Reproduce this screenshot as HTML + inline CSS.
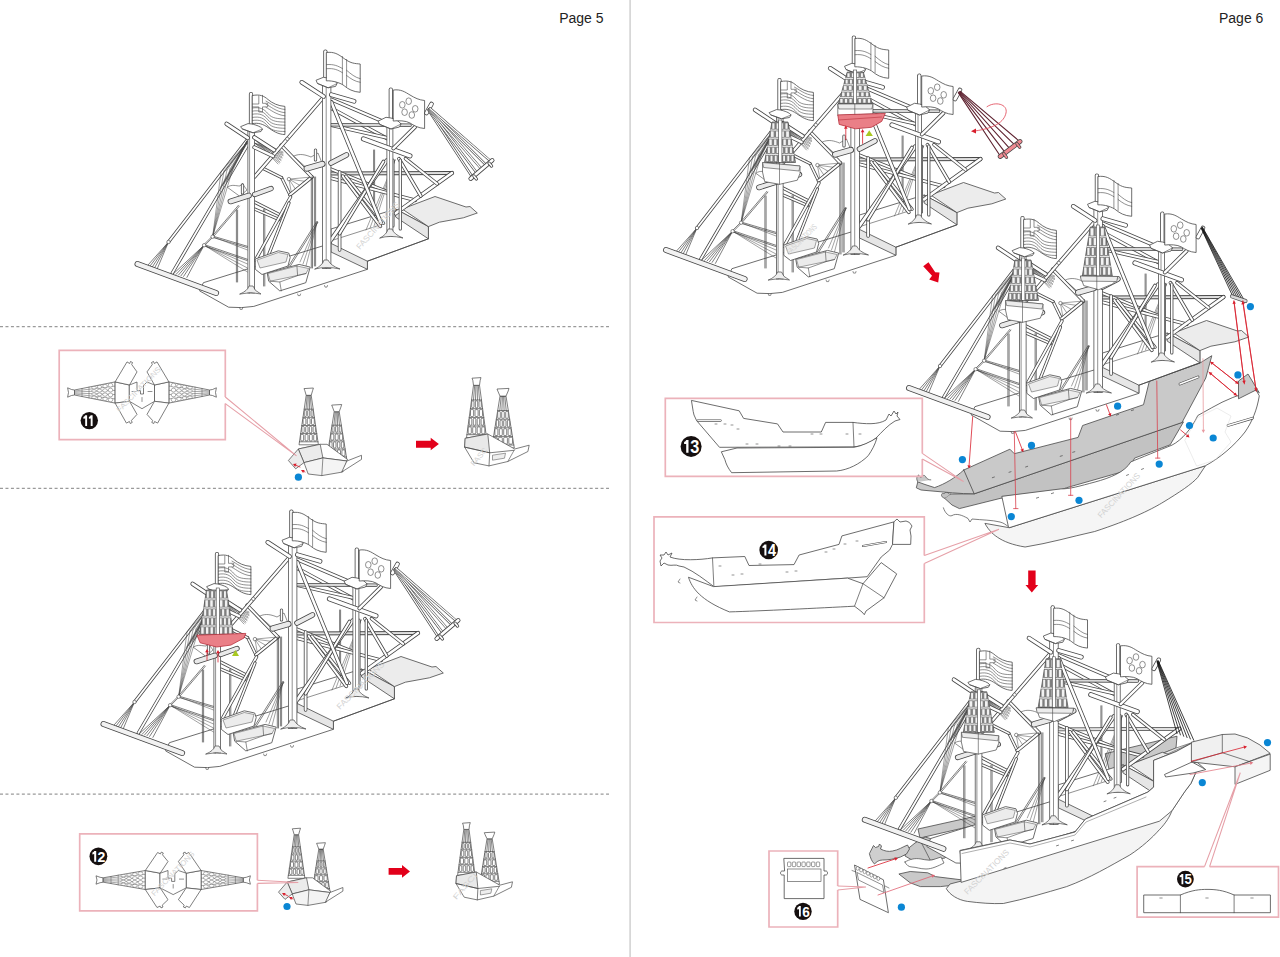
<!DOCTYPE html>
<html><head><meta charset="utf-8"><title>Assembly Pages 5-6</title>
<style>
html,body{margin:0;padding:0;background:#fff;width:1280px;height:957px;overflow:hidden}
svg{display:block}
text{font-family:"Liberation Sans",sans-serif}
.ln{fill:none;stroke:#444;stroke-width:.8;stroke-linejoin:round;stroke-linecap:round}
.lt{fill:none;stroke:#555;stroke-width:.6;stroke-linecap:round}
.wf{fill:#fff;stroke:#444;stroke-width:.8;stroke-linejoin:round}
.gf{fill:#ececec;stroke:#444;stroke-width:.8;stroke-linejoin:round}
.df{fill:#bdbdbd;stroke:#444;stroke-width:.8;stroke-linejoin:round}
.rb{fill:none;stroke:#ecb2ba;stroke-width:1.7}
.rl{fill:none;stroke:#e6a0a8;stroke-width:1.1}
.ra{fill:#e2001a}
.bd{fill:#0a86d4}
.num{fill:#111}
</style></head>
<body>
<svg width="1280" height="957" viewBox="0 0 1280 957">
<defs>
  <!-- BASKET (mast top lattice) -->
  <g id="rig"><polygon points="203.4,282.7 234.5,273 331,243.4 331,229 395.6,209 428.4,226.6 428.4,238.8 367.4,261.2 367.4,269.3 253.8,306.4 241.5,307.6 228.6,307.2 199.6,290.9" fill="#fff" stroke="#474747" stroke-width="0.8" stroke-linejoin="round"/><polygon points="331,243.4 367.4,261.2 367.4,269.3 331,252" fill="#e6e6e6" stroke="#474747" stroke-width="0.8" stroke-linejoin="round"/><polygon points="395.6,209 428.4,226.6 428.4,238.8 395.6,217" fill="#e6e6e6" stroke="#474747" stroke-width="0.8" stroke-linejoin="round"/><polygon points="402.2,209 435,196.5 466,207 470,206.5 477.3,213 463.4,217.8 439.4,222.2 428.4,226.6" fill="#ececec" stroke="#474747" stroke-width="0.8" stroke-linejoin="round"/><polyline points="367.4,261.2 428.4,238.8" fill="none" stroke="#474747" stroke-width="0.8" stroke-linecap="round" stroke-linejoin="round"/><path d="M239.7 307.8 l0.5 1.6 h2 l0.5 -1.6" fill="none" stroke="#474747" stroke-width="0.6" stroke-linejoin="round" stroke-linecap="round" /><path d="M297.6 294.0 l0.5 1.6 h2 l0.5 -1.6" fill="none" stroke="#474747" stroke-width="0.6" stroke-linejoin="round" stroke-linecap="round" /><path d="M324.5 285.5 l0.5 1.6 h2 l0.5 -1.6" fill="none" stroke="#474747" stroke-width="0.6" stroke-linejoin="round" stroke-linecap="round" /><line x1="168.5" y1="242" x2="247.2" y2="140" stroke="#474747" stroke-width="3.4" stroke-linecap="round"/><line x1="168.5" y1="242" x2="247.2" y2="140" stroke="#fff" stroke-width="1.8" stroke-linecap="round"/><line x1="172.3" y1="273" x2="247.5" y2="145" stroke="#474747" stroke-width="3.4" stroke-linecap="round"/><line x1="172.3" y1="273" x2="247.5" y2="145" stroke="#fff" stroke-width="1.8" stroke-linecap="round"/><polyline points="168.5,242 146.7,266.5" fill="none" stroke="#474747" stroke-width="0.7" stroke-linecap="round" stroke-linejoin="round"/><polyline points="168.5,242 149,267.3" fill="none" stroke="#474747" stroke-width="0.7" stroke-linecap="round" stroke-linejoin="round"/><polyline points="168.5,242 151.5,268.2" fill="none" stroke="#474747" stroke-width="0.7" stroke-linecap="round" stroke-linejoin="round"/><polyline points="168.5,242 154,269" fill="none" stroke="#474747" stroke-width="0.7" stroke-linecap="round" stroke-linejoin="round"/><polyline points="168.5,242 156.8,269.8" fill="none" stroke="#474747" stroke-width="0.7" stroke-linecap="round" stroke-linejoin="round"/><polyline points="204.1,245.2 173.5,273.7" fill="none" stroke="#474747" stroke-width="0.7" stroke-linecap="round" stroke-linejoin="round"/><polyline points="204.1,245.2 176,274.4" fill="none" stroke="#474747" stroke-width="0.7" stroke-linecap="round" stroke-linejoin="round"/><polyline points="204.1,245.2 178.5,275" fill="none" stroke="#474747" stroke-width="0.7" stroke-linecap="round" stroke-linejoin="round"/><polyline points="204.1,245.2 181,275.7" fill="none" stroke="#474747" stroke-width="0.7" stroke-linecap="round" stroke-linejoin="round"/><polyline points="204.1,245.2 183.6,276.4" fill="none" stroke="#474747" stroke-width="0.7" stroke-linecap="round" stroke-linejoin="round"/><polyline points="204.1,245.2 186.9,277.4" fill="none" stroke="#474747" stroke-width="0.7" stroke-linecap="round" stroke-linejoin="round"/><polyline points="212.6,236.7 221,172" fill="none" stroke="#474747" stroke-width="0.5" stroke-linecap="round" stroke-linejoin="round"/><polyline points="212.6,236.7 224,171" fill="none" stroke="#474747" stroke-width="0.5" stroke-linecap="round" stroke-linejoin="round"/><polyline points="212.6,236.7 227,170" fill="none" stroke="#474747" stroke-width="0.5" stroke-linecap="round" stroke-linejoin="round"/><polyline points="212.6,236.7 230,169" fill="none" stroke="#474747" stroke-width="0.5" stroke-linecap="round" stroke-linejoin="round"/><polyline points="212.6,236.7 233,168" fill="none" stroke="#474747" stroke-width="0.5" stroke-linecap="round" stroke-linejoin="round"/><polyline points="247.2,142 221,172" fill="none" stroke="#474747" stroke-width="0.5" stroke-linecap="round" stroke-linejoin="round"/><polyline points="247.2,142 224,171" fill="none" stroke="#474747" stroke-width="0.5" stroke-linecap="round" stroke-linejoin="round"/><polyline points="247.2,142 227,170" fill="none" stroke="#474747" stroke-width="0.5" stroke-linecap="round" stroke-linejoin="round"/><polyline points="247.2,142 230,169" fill="none" stroke="#474747" stroke-width="0.5" stroke-linecap="round" stroke-linejoin="round"/><polyline points="247.2,142 233,168" fill="none" stroke="#474747" stroke-width="0.5" stroke-linecap="round" stroke-linejoin="round"/><polyline points="212.2,236.3 203.7,244.8" fill="none" stroke="#474747" stroke-width="0.7" stroke-linecap="round" stroke-linejoin="round"/><polyline points="213,237.1 204.5,245.6" fill="none" stroke="#474747" stroke-width="0.7" stroke-linecap="round" stroke-linejoin="round"/><polyline points="213.1,237.1 239.4,206.1" fill="none" stroke="#474747" stroke-width="0.7" stroke-linecap="round" stroke-linejoin="round"/><polyline points="212.1,236.3 238.4,205.3" fill="none" stroke="#474747" stroke-width="0.7" stroke-linecap="round" stroke-linejoin="round"/><polyline points="212.4,237.3 247.3,247.6" fill="none" stroke="#474747" stroke-width="0.7" stroke-linecap="round" stroke-linejoin="round"/><polyline points="212.8,236.1 247.7,246.4" fill="none" stroke="#474747" stroke-width="0.7" stroke-linecap="round" stroke-linejoin="round"/><polyline points="212.6,236.7 247.5,250" fill="none" stroke="#474747" stroke-width="0.5" stroke-linecap="round" stroke-linejoin="round"/><polyline points="203.9,245.8 247.3,260.6" fill="none" stroke="#474747" stroke-width="0.7" stroke-linecap="round" stroke-linejoin="round"/><polyline points="204.3,244.6 247.7,259.4" fill="none" stroke="#474747" stroke-width="0.7" stroke-linecap="round" stroke-linejoin="round"/><polyline points="204.1,245.2 247.5,264" fill="none" stroke="#474747" stroke-width="0.5" stroke-linecap="round" stroke-linejoin="round"/><polyline points="204.1,245.2 247.5,268" fill="none" stroke="#474747" stroke-width="0.5" stroke-linecap="round" stroke-linejoin="round"/><polyline points="204.1,245.2 247.5,272" fill="none" stroke="#474747" stroke-width="0.5" stroke-linecap="round" stroke-linejoin="round"/><polyline points="236.4,210 236.4,282" fill="none" stroke="#474747" stroke-width="0.7" stroke-linecap="round" stroke-linejoin="round"/><polyline points="237.6,210 237.6,282" fill="none" stroke="#474747" stroke-width="0.7" stroke-linecap="round" stroke-linejoin="round"/><polyline points="263.6,209.5 263.6,286" fill="none" stroke="#474747" stroke-width="0.7" stroke-linecap="round" stroke-linejoin="round"/><polyline points="264.8,209.5 264.8,286" fill="none" stroke="#474747" stroke-width="0.7" stroke-linecap="round" stroke-linejoin="round"/><line x1="281.6" y1="177.6" x2="290" y2="194.8" stroke="#474747" stroke-width="3.1" stroke-linecap="round"/><line x1="281.6" y1="177.6" x2="290" y2="194.8" stroke="#fff" stroke-width="1.5" stroke-linecap="round"/><polyline points="288.9,179.1 311.9,177" fill="none" stroke="#474747" stroke-width="0.5" stroke-linecap="round" stroke-linejoin="round"/><polyline points="288.9,179.1 306.5,181.5" fill="none" stroke="#474747" stroke-width="0.5" stroke-linecap="round" stroke-linejoin="round"/><polyline points="288.9,179.1 301,186" fill="none" stroke="#474747" stroke-width="0.5" stroke-linecap="round" stroke-linejoin="round"/><polyline points="288.9,179.1 296,190" fill="none" stroke="#474747" stroke-width="0.5" stroke-linecap="round" stroke-linejoin="round"/><polyline points="288.9,179.1 291.5,193.5" fill="none" stroke="#474747" stroke-width="0.5" stroke-linecap="round" stroke-linejoin="round"/><line x1="311.9" y1="177" x2="290" y2="194.8" stroke="#474747" stroke-width="3.6" stroke-linecap="round"/><line x1="311.9" y1="177" x2="290" y2="194.8" stroke="#fff" stroke-width="2" stroke-linecap="round"/><line x1="262.8" y1="168.2" x2="281.6" y2="177.6" stroke="#474747" stroke-width="3.2" stroke-linecap="round"/><line x1="262.8" y1="168.2" x2="281.6" y2="177.6" stroke="#fff" stroke-width="1.6" stroke-linecap="round"/><line x1="281.1" y1="145.2" x2="311.9" y2="177" stroke="#474747" stroke-width="3.6" stroke-linecap="round"/><line x1="281.1" y1="145.2" x2="311.9" y2="177" stroke="#fff" stroke-width="2" stroke-linecap="round"/><line x1="254.4" y1="202" x2="281.6" y2="215.7" stroke="#474747" stroke-width="3.4" stroke-linecap="round"/><line x1="254.4" y1="202" x2="281.6" y2="215.7" stroke="#fff" stroke-width="1.8" stroke-linecap="round"/><line x1="254.4" y1="209" x2="279" y2="219.5" stroke="#474747" stroke-width="3.2" stroke-linecap="round"/><line x1="254.4" y1="209" x2="279" y2="219.5" stroke="#fff" stroke-width="1.6" stroke-linecap="round"/><line x1="290.5" y1="197" x2="255.4" y2="260.3" stroke="#474747" stroke-width="3.4" stroke-linecap="round"/><line x1="290.5" y1="197" x2="255.4" y2="260.3" stroke="#fff" stroke-width="1.8" stroke-linecap="round"/><line x1="289" y1="203" x2="263.8" y2="267" stroke="#474747" stroke-width="3.2" stroke-linecap="round"/><line x1="289" y1="203" x2="263.8" y2="267" stroke="#fff" stroke-width="1.6" stroke-linecap="round"/><polyline points="311.3,177 311.3,268" fill="none" stroke="#474747" stroke-width="0.7" stroke-linecap="round" stroke-linejoin="round"/><polyline points="312.5,177 312.5,268" fill="none" stroke="#474747" stroke-width="0.7" stroke-linecap="round" stroke-linejoin="round"/><polyline points="314.4,177 314.4,266" fill="none" stroke="#474747" stroke-width="0.7" stroke-linecap="round" stroke-linejoin="round"/><polyline points="315.6,177 315.6,266" fill="none" stroke="#474747" stroke-width="0.7" stroke-linecap="round" stroke-linejoin="round"/><polyline points="317.3,221.9 300,262" fill="none" stroke="#474747" stroke-width="0.5" stroke-linecap="round" stroke-linejoin="round"/><polyline points="317.3,221.9 303,264" fill="none" stroke="#474747" stroke-width="0.5" stroke-linecap="round" stroke-linejoin="round"/><polyline points="317.3,221.9 306,266" fill="none" stroke="#474747" stroke-width="0.5" stroke-linecap="round" stroke-linejoin="round"/><polyline points="316.7,221.5 288.3,266.6" fill="none" stroke="#474747" stroke-width="0.7" stroke-linecap="round" stroke-linejoin="round"/><polyline points="317.9,222.3 289.5,267.4" fill="none" stroke="#474747" stroke-width="0.7" stroke-linecap="round" stroke-linejoin="round"/><polyline points="254.5,139 283,152" fill="none" stroke="#474747" stroke-width="0.5" stroke-linecap="round" stroke-linejoin="round"/><polyline points="254.5,139 283,154.5" fill="none" stroke="#474747" stroke-width="0.5" stroke-linecap="round" stroke-linejoin="round"/><polyline points="254.5,139 282,157" fill="none" stroke="#474747" stroke-width="0.5" stroke-linecap="round" stroke-linejoin="round"/><polyline points="254.5,139 281,159.5" fill="none" stroke="#474747" stroke-width="0.5" stroke-linecap="round" stroke-linejoin="round"/><polyline points="254.5,139 280,162" fill="none" stroke="#474747" stroke-width="0.5" stroke-linecap="round" stroke-linejoin="round"/><polyline points="254.5,139 278,164" fill="none" stroke="#474747" stroke-width="0.5" stroke-linecap="round" stroke-linejoin="round"/><polyline points="254.5,143 283,153" fill="none" stroke="#474747" stroke-width="0.5" stroke-linecap="round" stroke-linejoin="round"/><polyline points="254.5,143 283,155.5" fill="none" stroke="#474747" stroke-width="0.5" stroke-linecap="round" stroke-linejoin="round"/><polyline points="254.5,143 282,158" fill="none" stroke="#474747" stroke-width="0.5" stroke-linecap="round" stroke-linejoin="round"/><polyline points="254.5,143 281,160.5" fill="none" stroke="#474747" stroke-width="0.5" stroke-linecap="round" stroke-linejoin="round"/><polyline points="254.5,143 279.5,163" fill="none" stroke="#474747" stroke-width="0.5" stroke-linecap="round" stroke-linejoin="round"/><polyline points="247,141 228,180" fill="none" stroke="#474747" stroke-width="0.5" stroke-linecap="round" stroke-linejoin="round"/><polyline points="247,141 226,182" fill="none" stroke="#474747" stroke-width="0.5" stroke-linecap="round" stroke-linejoin="round"/><polyline points="247,141 224,184" fill="none" stroke="#474747" stroke-width="0.5" stroke-linecap="round" stroke-linejoin="round"/><polyline points="247,141 222,186" fill="none" stroke="#474747" stroke-width="0.5" stroke-linecap="round" stroke-linejoin="round"/><polyline points="247,141 220,188" fill="none" stroke="#474747" stroke-width="0.5" stroke-linecap="round" stroke-linejoin="round"/><polyline points="373.6,150 373.6,205" fill="none" stroke="#474747" stroke-width="0.7" stroke-linecap="round" stroke-linejoin="round"/><polyline points="374.6,150 374.6,205" fill="none" stroke="#474747" stroke-width="0.7" stroke-linecap="round" stroke-linejoin="round"/><polyline points="395,160 366,230" fill="none" stroke="#474747" stroke-width="0.5" stroke-linecap="round" stroke-linejoin="round"/><polyline points="395,160 370,228" fill="none" stroke="#474747" stroke-width="0.5" stroke-linecap="round" stroke-linejoin="round"/><polyline points="395,160 374,226" fill="none" stroke="#474747" stroke-width="0.5" stroke-linecap="round" stroke-linejoin="round"/><polyline points="330.2,241 379.4,225.3" fill="none" stroke="#474747" stroke-width="0.6" stroke-linecap="round" stroke-linejoin="round"/><line x1="331.4" y1="99.4" x2="387.8" y2="123.4" stroke="#474747" stroke-width="3.8" stroke-linecap="round"/><line x1="331.4" y1="99.4" x2="387.8" y2="123.4" stroke="#fff" stroke-width="2.2" stroke-linecap="round"/><line x1="331.4" y1="108.3" x2="387.8" y2="138.9" stroke="#474747" stroke-width="3.8" stroke-linecap="round"/><line x1="331.4" y1="108.3" x2="387.8" y2="138.9" stroke="#fff" stroke-width="2.2" stroke-linecap="round"/><line x1="331.4" y1="125.3" x2="387.8" y2="138" stroke="#474747" stroke-width="3.6" stroke-linecap="round"/><line x1="331.4" y1="125.3" x2="387.8" y2="138" stroke="#fff" stroke-width="2" stroke-linecap="round"/><line x1="331.4" y1="124.8" x2="410" y2="125.2" stroke="#474747" stroke-width="3.6" stroke-linecap="round"/><line x1="331.4" y1="124.8" x2="410" y2="125.2" stroke="#d8d8d8" stroke-width="2" stroke-linecap="round"/><line x1="331.4" y1="173.5" x2="452" y2="173" stroke="#474747" stroke-width="3.8" stroke-linecap="round"/><line x1="331.4" y1="173.5" x2="452" y2="173" stroke="#e0e0e0" stroke-width="2.2" stroke-linecap="round"/><line x1="330.2" y1="168.8" x2="387.7" y2="191.8" stroke="#474747" stroke-width="3.4" stroke-linecap="round"/><line x1="330.2" y1="168.8" x2="387.7" y2="191.8" stroke="#fff" stroke-width="1.8" stroke-linecap="round"/><line x1="330" y1="178" x2="415.3" y2="200.3" stroke="#474747" stroke-width="3.6" stroke-linecap="round"/><line x1="330" y1="178" x2="415.3" y2="200.3" stroke="#fff" stroke-width="2" stroke-linecap="round"/><line x1="339.6" y1="172" x2="339.6" y2="250" stroke="#474747" stroke-width="3.6" stroke-linecap="round"/><line x1="339.6" y1="172" x2="339.6" y2="250" stroke="#fff" stroke-width="2" stroke-linecap="round"/><line x1="342.8" y1="176.1" x2="380.4" y2="226.3" stroke="#474747" stroke-width="3.6" stroke-linecap="round"/><line x1="342.8" y1="176.1" x2="380.4" y2="226.3" stroke="#fff" stroke-width="2" stroke-linecap="round"/><line x1="345.9" y1="176.1" x2="383.5" y2="223.2" stroke="#474747" stroke-width="3.4" stroke-linecap="round"/><line x1="345.9" y1="176.1" x2="383.5" y2="223.2" stroke="#fff" stroke-width="1.8" stroke-linecap="round"/><line x1="386.7" y1="160.5" x2="330.2" y2="241" stroke="#474747" stroke-width="4.4" stroke-linecap="round"/><line x1="386.7" y1="160.5" x2="330.2" y2="241" stroke="#fff" stroke-width="2.8" stroke-linecap="round"/><line x1="383.5" y1="161.5" x2="339.6" y2="233.6" stroke="#474747" stroke-width="3.6" stroke-linecap="round"/><line x1="383.5" y1="161.5" x2="339.6" y2="233.6" stroke="#fff" stroke-width="2" stroke-linecap="round"/><line x1="331.4" y1="102.2" x2="381" y2="223" stroke="#474747" stroke-width="4.1" stroke-linecap="round"/><line x1="331.4" y1="102.2" x2="381" y2="223" stroke="#fff" stroke-width="2.5" stroke-linecap="round"/><line x1="452" y1="173" x2="395.6" y2="213.4" stroke="#474747" stroke-width="4.2" stroke-linecap="round"/><line x1="452" y1="173" x2="395.6" y2="213.4" stroke="#fff" stroke-width="2.6" stroke-linecap="round"/><line x1="398.9" y1="158.7" x2="420.8" y2="196" stroke="#474747" stroke-width="3.6" stroke-linecap="round"/><line x1="398.9" y1="158.7" x2="420.8" y2="196" stroke="#fff" stroke-width="2" stroke-linecap="round"/><line x1="405.5" y1="158.7" x2="437.2" y2="183.9" stroke="#474747" stroke-width="3.6" stroke-linecap="round"/><line x1="405.5" y1="158.7" x2="437.2" y2="183.9" stroke="#fff" stroke-width="2" stroke-linecap="round"/><line x1="393" y1="160" x2="393" y2="226" stroke="#474747" stroke-width="3" stroke-linecap="round"/><line x1="393" y1="160" x2="393" y2="226" stroke="#fff" stroke-width="1.4" stroke-linecap="round"/><line x1="400.3" y1="160" x2="400.3" y2="229" stroke="#474747" stroke-width="3.2" stroke-linecap="round"/><line x1="400.3" y1="160" x2="400.3" y2="229" stroke="#fff" stroke-width="1.6" stroke-linecap="round"/><line x1="323.6" y1="97" x2="254.4" y2="177" stroke="#474747" stroke-width="3.8" stroke-linecap="round"/><line x1="323.6" y1="97" x2="254.4" y2="177" stroke="#fff" stroke-width="2.2" stroke-linecap="round"/><rect x="247.9" y="128" width="6.7" height="165" fill="#fff" stroke="#474747" stroke-width="0.75"/><polyline points="249.6,128 249.6,293" fill="none" stroke="#474747" stroke-width="0.6" stroke-linecap="round" stroke-linejoin="round"/><path d="M240 294 Q247.7 290.8 249 286 L253 286 Q254 290.8 261 294 Q251 291.2 240 294 Z" fill="#eee" stroke="#474747" stroke-width="0.7" stroke-linejoin="round" stroke-linecap="round" /><rect x="322.4" y="84" width="8.5" height="184.6" fill="#fff" stroke="#474747" stroke-width="0.75"/><polyline points="326.2,84 326.2,268.6" fill="none" stroke="#474747" stroke-width="0.6" stroke-linecap="round" stroke-linejoin="round"/><path d="M315 269 Q322.7 265.4 324 260 L328 260 Q330.2 265.4 340 269 Q326 265.9 315 269 Z" fill="#eee" stroke="#474747" stroke-width="0.7" stroke-linejoin="round" stroke-linecap="round" /><rect x="386.9" y="122" width="6" height="114.4" fill="#fff" stroke="#474747" stroke-width="0.75"/><polyline points="389.5,122 389.5,236.4" fill="none" stroke="#474747" stroke-width="0.6" stroke-linecap="round" stroke-linejoin="round"/><path d="M380 238 Q387 234.4 388 229 L392 229 Q393.9 234.4 403 238 Q390 234.8 380 238 Z" fill="#eee" stroke="#474747" stroke-width="0.7" stroke-linejoin="round" stroke-linecap="round" /><line x1="251" y1="94" x2="251" y2="126" stroke="#474747" stroke-width="4.2" stroke-linecap="round"/><line x1="251" y1="94" x2="251" y2="126" stroke="#fff" stroke-width="2.6" stroke-linecap="round"/><line x1="325.4" y1="51.5" x2="325.4" y2="84" stroke="#474747" stroke-width="4.2" stroke-linecap="round"/><line x1="325.4" y1="51.5" x2="325.4" y2="84" stroke="#fff" stroke-width="2.6" stroke-linecap="round"/><line x1="390.8" y1="89.5" x2="390.8" y2="122" stroke="#474747" stroke-width="4.2" stroke-linecap="round"/><line x1="390.8" y1="89.5" x2="390.8" y2="122" stroke="#fff" stroke-width="2.6" stroke-linecap="round"/><line x1="226.6" y1="123.8" x2="247.7" y2="137.9" stroke="#474747" stroke-width="4.4" stroke-linecap="round"/><line x1="226.6" y1="123.8" x2="247.7" y2="137.9" stroke="#fff" stroke-width="2.8" stroke-linecap="round"/><line x1="254.3" y1="137.4" x2="274" y2="150.1" stroke="#474747" stroke-width="4.4" stroke-linecap="round"/><line x1="254.3" y1="137.4" x2="274" y2="150.1" stroke="#fff" stroke-width="2.8" stroke-linecap="round"/><line x1="254.3" y1="147.3" x2="273.1" y2="156.2" stroke="#474747" stroke-width="4" stroke-linecap="round"/><line x1="254.3" y1="147.3" x2="273.1" y2="156.2" stroke="#fff" stroke-width="2.4" stroke-linecap="round"/><path d="M227.6 187 C232 184 236 186 240 186 L242.6 183 L244 186 L247 190 L240 196 Z" fill="#fff" stroke="#474747" stroke-width="0.6" stroke-linejoin="round" stroke-linecap="round" /><line x1="230.4" y1="201.5" x2="249" y2="195.5" stroke="#474747" stroke-width="5.6" stroke-linecap="round"/><line x1="230.4" y1="201.5" x2="249" y2="195.5" stroke="#eaeaea" stroke-width="4" stroke-linecap="round"/><line x1="254.6" y1="194.5" x2="271.1" y2="188.5" stroke="#474747" stroke-width="5.2" stroke-linecap="round"/><line x1="254.6" y1="194.5" x2="271.1" y2="188.5" stroke="#eaeaea" stroke-width="3.6" stroke-linecap="round"/><line x1="301.7" y1="82.3" x2="323.6" y2="96.4" stroke="#474747" stroke-width="4.6" stroke-linecap="round"/><line x1="301.7" y1="82.3" x2="323.6" y2="96.4" stroke="#fff" stroke-width="3" stroke-linecap="round"/><line x1="331.4" y1="94.7" x2="354" y2="101.3" stroke="#474747" stroke-width="4.8" stroke-linecap="round"/><line x1="331.4" y1="94.7" x2="354" y2="101.3" stroke="#fff" stroke-width="3.2" stroke-linecap="round"/><path d="M294 156 C300 153 306 155 311 157 L318 153 L320 158 L322 163 L306 167 Z" fill="#fff" stroke="#474747" stroke-width="0.6" stroke-linejoin="round" stroke-linecap="round" /><line x1="306.7" y1="168.5" x2="322.4" y2="164" stroke="#474747" stroke-width="6.2" stroke-linecap="round"/><line x1="306.7" y1="168.5" x2="322.4" y2="164" stroke="#eaeaea" stroke-width="4.6" stroke-linecap="round"/><line x1="331" y1="163" x2="346.4" y2="154.9" stroke="#474747" stroke-width="5.6" stroke-linecap="round"/><line x1="331" y1="163" x2="346.4" y2="154.9" stroke="#eaeaea" stroke-width="4" stroke-linecap="round"/><line x1="363.4" y1="138.9" x2="410" y2="155.8" stroke="#474747" stroke-width="5" stroke-linecap="round"/><line x1="363.4" y1="138.9" x2="410" y2="155.8" stroke="#fff" stroke-width="3.4" stroke-linecap="round"/><line x1="393.4" y1="148.3" x2="415" y2="127" stroke="#474747" stroke-width="4" stroke-linecap="round"/><line x1="393.4" y1="148.3" x2="415" y2="127" stroke="#fff" stroke-width="2.4" stroke-linecap="round"/><line x1="242.5" y1="185" x2="242.5" y2="193" stroke="#474747" stroke-width="3.2" stroke-linecap="round"/><line x1="242.5" y1="185" x2="242.5" y2="193" stroke="#fff" stroke-width="1.6" stroke-linecap="round"/><line x1="315.5" y1="150" x2="315.5" y2="160" stroke="#474747" stroke-width="3.2" stroke-linecap="round"/><line x1="315.5" y1="150" x2="315.5" y2="160" stroke="#fff" stroke-width="1.6" stroke-linecap="round"/><path d="M241 126.5 L248 123.6 L252 124 C256 125 261 126.5 262.5 129 L261 131.5 L253 132.8 L242.5 129 Z" fill="#fff" stroke="#474747" stroke-width="0.8" stroke-linejoin="round" stroke-linecap="round" /><polyline points="242.5,129 253,132.8 262.5,129" fill="none" stroke="#474747" stroke-width="0.6" stroke-linecap="round" stroke-linejoin="round"/><path d="M316.4 80.1 L323.4 77.3 L328 78 C332 79 336 81 337 83.6 L335.6 86.4 L328.1 87.8 L317.8 83.6 Z" fill="#fff" stroke="#474747" stroke-width="0.8" stroke-linejoin="round" stroke-linecap="round" /><polyline points="317.8,83.6 328.1,87.8 337,83.6" fill="none" stroke="#474747" stroke-width="0.6" stroke-linecap="round" stroke-linejoin="round"/><path d="M378.4 121 L386 117.3 L391 118 C395 119 399 121 401 124 L399.5 127 L391 129 L380 124.5 Z" fill="#fff" stroke="#474747" stroke-width="0.8" stroke-linejoin="round" stroke-linecap="round" /><polyline points="380,124.5 391,129 401,124" fill="none" stroke="#474747" stroke-width="0.6" stroke-linecap="round" stroke-linejoin="round"/><path d="M252.5 95.5 C260 94 264 96 268 99.5 S278 106 284.9 106.4 L284.9 134.6 C278 134.3 273 131 268 127.5 S258 122.5 252.5 123.6 Z" fill="#fff" stroke="#474747" stroke-width="0.8" stroke-linejoin="round" stroke-linecap="round" /><path d="M266 101.1 C270 102.9 276 108.7 284.9 109.5" fill="none" stroke="#474747" stroke-width="0.6" stroke-linejoin="round" stroke-linecap="round" /><path d="M266 104.2 C270 106 276 111.9 284.9 112.7" fill="none" stroke="#474747" stroke-width="0.6" stroke-linejoin="round" stroke-linecap="round" /><path d="M266 107.4 C270 109.2 276 115 284.9 115.8" fill="none" stroke="#474747" stroke-width="0.6" stroke-linejoin="round" stroke-linecap="round" /><path d="M252.5 108 C260 106.8 264 108.8 268 113.7 S278 118.7 284.9 118.9" fill="none" stroke="#474747" stroke-width="0.6" stroke-linejoin="round" stroke-linecap="round" /><path d="M252.5 111.1 C260 109.9 264 111.9 268 116.8 S278 121.9 284.9 122.1" fill="none" stroke="#474747" stroke-width="0.6" stroke-linejoin="round" stroke-linecap="round" /><path d="M252.5 114.2 C260 113 264 115 268 119.9 S278 125 284.9 125.2" fill="none" stroke="#474747" stroke-width="0.6" stroke-linejoin="round" stroke-linecap="round" /><path d="M252.5 117.4 C260 116.2 264 118.2 268 123 S278 128.1 284.9 128.3" fill="none" stroke="#474747" stroke-width="0.6" stroke-linejoin="round" stroke-linecap="round" /><path d="M252.5 120.5 C260 119.3 264 121.3 268 126.2 S278 131.3 284.9 131.5" fill="none" stroke="#474747" stroke-width="0.6" stroke-linejoin="round" stroke-linecap="round" /><path d="M258.8 96 V104 H252.6 M262.5 95.3 V103.3 H267.7 V106.9 H262.5 V112 H258.8 V106.9 H252.6" fill="none" stroke="#474747" stroke-width="0.6" stroke-linejoin="round" stroke-linecap="round" /><path d="M326.7 52.5 C334 51.5 338 54 344.5 58.8 S355 63.5 360.2 64 L360.2 92.3 C353 91.8 348 89 344.5 86 S333 80.5 326.7 80.8 Z" fill="#fff" stroke="#474747" stroke-width="0.8" stroke-linejoin="round" stroke-linecap="round" /><path d="M326.7 64.6 C334 64 338 66 342.4 68.5 M326.7 68.7 C334 68 338 70 342.4 72.7 M346.6 70.3 C351 74 355 77.5 360.2 78.7 M346.6 75.5 C351 79 355 81.5 360.2 82.3" fill="none" stroke="#474747" stroke-width="0.6" stroke-linejoin="round" stroke-linecap="round" /><path d="M342.4 56.5 V84 M346.6 59.4 V86.5" fill="none" stroke="#474747" stroke-width="0.6" stroke-linejoin="round" stroke-linecap="round" /><path d="M393.6 90 C401 89 405 92 410 95 S419 100 424.6 100.5 L424.6 128.5 C418 128 414 125.5 410 123 S398 120.5 393.6 121 Z" fill="#fff" stroke="#474747" stroke-width="0.8" stroke-linejoin="round" stroke-linecap="round" /><ellipse cx="408.7" cy="101.2" rx="2.8" ry="3.3" fill="#fff" stroke="#474747" stroke-width="0.6"/><ellipse cx="402.3" cy="104.8" rx="2.8" ry="3.3" fill="#fff" stroke="#474747" stroke-width="0.6"/><ellipse cx="415.2" cy="108.8" rx="2.8" ry="3.3" fill="#fff" stroke="#474747" stroke-width="0.6"/><ellipse cx="404.6" cy="112.2" rx="2.8" ry="3.3" fill="#fff" stroke="#474747" stroke-width="0.6"/><ellipse cx="411.8" cy="115" rx="2.8" ry="3.3" fill="#fff" stroke="#474747" stroke-width="0.6"/><line x1="426.5" y1="113" x2="431.5" y2="104" stroke="#474747" stroke-width="4.6" stroke-linecap="round"/><line x1="426.5" y1="113" x2="431.5" y2="104" stroke="#fff" stroke-width="3" stroke-linecap="round"/><circle cx="287.3" cy="138.9" r="1.7" fill="#fff" stroke="#474747" stroke-width="0.6"/><circle cx="168.5" cy="242" r="1.7" fill="#fff" stroke="#474747" stroke-width="0.6"/><circle cx="204.1" cy="245.2" r="1.7" fill="#fff" stroke="#474747" stroke-width="0.6"/><circle cx="288.9" cy="179.1" r="1.7" fill="#fff" stroke="#474747" stroke-width="0.6"/><circle cx="212.6" cy="236.7" r="1.7" fill="#fff" stroke="#474747" stroke-width="0.6"/><polygon points="255.3,259 278.3,250.8 288.7,253 290.2,257.5 288,266 262,274.5 255.3,269.3" fill="#fff" stroke="#474747" stroke-width="0.8" stroke-linejoin="round"/><polygon points="257,260 278.3,252.5 288,254.5 286,262 260,268" fill="#ececec" stroke="#474747" stroke-width="0.5" stroke-linejoin="round"/><polygon points="267.2,273 299.1,264.4 310.2,267.1 305.8,282.7 279.8,290.9 268.7,281.2" fill="#fff" stroke="#474747" stroke-width="0.8" stroke-linejoin="round"/><polygon points="268,273.5 297,266 308.7,268.5 306,273.5 298.4,275.3 270.2,281.2" fill="#ececec" stroke="#474747" stroke-width="0.5" stroke-linejoin="round"/><polyline points="296.9,265.6 297.6,275.3" fill="none" stroke="#474747" stroke-width="0.6" stroke-linecap="round" stroke-linejoin="round"/><polyline points="279.8,282 281.3,290.9" fill="none" stroke="#474747" stroke-width="0.6" stroke-linecap="round" stroke-linejoin="round"/><polyline points="270.2,281.2 279.8,282 298.4,275.3 306,273.5" fill="none" stroke="#474747" stroke-width="0.6" stroke-linecap="round" stroke-linejoin="round"/><line x1="137.5" y1="264" x2="216.1" y2="293" stroke="#474747" stroke-width="6" stroke-linecap="round"/><line x1="137.5" y1="264" x2="216.1" y2="293" stroke="#f2f2f2" stroke-width="4.4" stroke-linecap="round"/></g><g id="rakeN"><line x1="428.5" y1="110" x2="471.7" y2="176" stroke="#474747" stroke-width="2.5" stroke-linecap="round"/><line x1="428.5" y1="110" x2="471.7" y2="176" stroke="#fff" stroke-width="1.3" stroke-linecap="round"/><line x1="428.9" y1="109.6" x2="476.3" y2="172.2" stroke="#474747" stroke-width="2.5" stroke-linecap="round"/><line x1="428.9" y1="109.6" x2="476.3" y2="172.2" stroke="#fff" stroke-width="1.3" stroke-linecap="round"/><line x1="429.3" y1="109.2" x2="480.9" y2="168.3" stroke="#474747" stroke-width="2.5" stroke-linecap="round"/><line x1="429.3" y1="109.2" x2="480.9" y2="168.3" stroke="#fff" stroke-width="1.3" stroke-linecap="round"/><line x1="429.7" y1="108.8" x2="485.4" y2="164.4" stroke="#474747" stroke-width="2.5" stroke-linecap="round"/><line x1="429.7" y1="108.8" x2="485.4" y2="164.4" stroke="#fff" stroke-width="1.3" stroke-linecap="round"/><line x1="430.1" y1="108.4" x2="490" y2="160.6" stroke="#474747" stroke-width="2.5" stroke-linecap="round"/><line x1="430.1" y1="108.4" x2="490" y2="160.6" stroke="#fff" stroke-width="1.3" stroke-linecap="round"/><line x1="470.6" y1="178.7" x2="492.3" y2="160.3" stroke="#474747" stroke-width="4.4" stroke-linecap="round"/><line x1="470.6" y1="178.7" x2="492.3" y2="160.3" stroke="#fff" stroke-width="2.8" stroke-linecap="round"/><line x1="473.9" y1="175.9" x2="476.4" y2="179" stroke="#474747" stroke-width="3.2" stroke-linecap="round"/><line x1="473.9" y1="175.9" x2="476.4" y2="179" stroke="#fff" stroke-width="1.6" stroke-linecap="round"/><line x1="489" y1="163.1" x2="491.6" y2="166.1" stroke="#474747" stroke-width="3.2" stroke-linecap="round"/><line x1="489" y1="163.1" x2="491.6" y2="166.1" stroke="#fff" stroke-width="1.6" stroke-linecap="round"/></g><g id="rakeD"><polyline points="429.8,104.5 461.5,172.8" fill="none" stroke="#111" stroke-width="0.8" stroke-linecap="round" stroke-linejoin="round"/><polyline points="430,104.3 463.8,173.6" fill="none" stroke="#111" stroke-width="0.8" stroke-linecap="round" stroke-linejoin="round"/><polyline points="430.3,104 466.1,174.3" fill="none" stroke="#111" stroke-width="0.8" stroke-linecap="round" stroke-linejoin="round"/><polyline points="430.5,103.8 468.4,175.1" fill="none" stroke="#111" stroke-width="0.8" stroke-linecap="round" stroke-linejoin="round"/><polyline points="430.8,103.5 470.7,175.8" fill="none" stroke="#111" stroke-width="0.8" stroke-linecap="round" stroke-linejoin="round"/><polyline points="431,103.3 473,176.6" fill="none" stroke="#111" stroke-width="0.8" stroke-linecap="round" stroke-linejoin="round"/><line x1="460.5" y1="172.4" x2="474" y2="177" stroke="#474747" stroke-width="4" stroke-linecap="round"/><line x1="460.5" y1="172.4" x2="474" y2="177" stroke="#d8d8d8" stroke-width="2.6" stroke-linecap="round"/></g><g id="rakeD2"><polyline points="429.7,106 449.7,177.8" fill="none" stroke="#111" stroke-width="0.8" stroke-linecap="round" stroke-linejoin="round"/><polyline points="429.9,105.8 453.1,179.1" fill="none" stroke="#111" stroke-width="0.8" stroke-linecap="round" stroke-linejoin="round"/><polyline points="430.2,105.5 456.4,180.5" fill="none" stroke="#111" stroke-width="0.8" stroke-linecap="round" stroke-linejoin="round"/><polyline points="430.4,105.3 459.8,181.8" fill="none" stroke="#111" stroke-width="0.8" stroke-linecap="round" stroke-linejoin="round"/><polyline points="430.7,105 463.1,183.2" fill="none" stroke="#111" stroke-width="0.8" stroke-linecap="round" stroke-linejoin="round"/><polyline points="430.9,104.8 466.5,184.5" fill="none" stroke="#111" stroke-width="0.8" stroke-linecap="round" stroke-linejoin="round"/></g><g id="rakeR"><polyline points="429.8,106.6 471.1,169" fill="none" stroke="#5e2230" stroke-width="1.1" stroke-linecap="round" stroke-linejoin="round"/><polyline points="430.3,106.3 475.8,165.4" fill="none" stroke="#5e2230" stroke-width="1.1" stroke-linecap="round" stroke-linejoin="round"/><polyline points="430.8,106 480.6,161.8" fill="none" stroke="#5e2230" stroke-width="1.1" stroke-linecap="round" stroke-linejoin="round"/><polyline points="431.3,105.7 485.4,158.2" fill="none" stroke="#5e2230" stroke-width="1.1" stroke-linecap="round" stroke-linejoin="round"/><polyline points="431.8,105.4 490.1,154.6" fill="none" stroke="#5e2230" stroke-width="1.1" stroke-linecap="round" stroke-linejoin="round"/><line x1="471.7" y1="170.5" x2="491.5" y2="155.5" stroke="#474747" stroke-width="4.8" stroke-linecap="round"/><line x1="471.7" y1="170.5" x2="491.5" y2="155.5" stroke="#f08a92" stroke-width="3.4" stroke-linecap="round"/><line x1="475.3" y1="167.8" x2="478" y2="171.4" stroke="#474747" stroke-width="3.2" stroke-linecap="round"/><line x1="475.3" y1="167.8" x2="478" y2="171.4" stroke="#f08a92" stroke-width="1.8" stroke-linecap="round"/><line x1="488.5" y1="157.8" x2="491.2" y2="161.3" stroke="#474747" stroke-width="3.2" stroke-linecap="round"/><line x1="488.5" y1="157.8" x2="491.2" y2="161.3" stroke="#f08a92" stroke-width="1.8" stroke-linecap="round"/></g>
</defs>

<use href="#rig"/><use href="#rakeN"/><use href="#rig" x="-34" y="460"/><use href="#rakeN" x="-34" y="460"/><polygon points="206.5,590 226.5,590 233.5,635 199.5,635" fill="#9c9c9c" stroke="#474747" stroke-width="0.7" stroke-linejoin="round"/><rect x="206.4" y="590.8" width="2.9" height="7.4" rx="0.7" fill="#f2f2f2" stroke="#333" stroke-width="0.5"/><rect x="210.7" y="590.8" width="2.9" height="7.4" rx="0.7" fill="#f2f2f2" stroke="#333" stroke-width="0.5"/><rect x="215" y="590.8" width="2.9" height="7.4" rx="0.7" fill="#f2f2f2" stroke="#333" stroke-width="0.5"/><rect x="219.2" y="590.8" width="2.9" height="7.4" rx="0.7" fill="#f2f2f2" stroke="#333" stroke-width="0.5"/><rect x="223.5" y="590.8" width="2.9" height="7.4" rx="0.7" fill="#f2f2f2" stroke="#333" stroke-width="0.5"/><rect x="205" y="599.8" width="3.4" height="7.4" rx="0.7" fill="#f2f2f2" stroke="#333" stroke-width="0.5"/><rect x="209.8" y="599.8" width="3.4" height="7.4" rx="0.7" fill="#f2f2f2" stroke="#333" stroke-width="0.5"/><rect x="214.7" y="599.8" width="3.4" height="7.4" rx="0.7" fill="#f2f2f2" stroke="#333" stroke-width="0.5"/><rect x="219.5" y="599.8" width="3.4" height="7.4" rx="0.7" fill="#f2f2f2" stroke="#333" stroke-width="0.5"/><rect x="224.4" y="599.8" width="3.4" height="7.4" rx="0.7" fill="#f2f2f2" stroke="#333" stroke-width="0.5"/><rect x="203.6" y="608.8" width="3.1" height="7.4" rx="0.7" fill="#f2f2f2" stroke="#333" stroke-width="0.5"/><rect x="208.1" y="608.8" width="3.1" height="7.4" rx="0.7" fill="#f2f2f2" stroke="#333" stroke-width="0.5"/><rect x="212.6" y="608.8" width="3.1" height="7.4" rx="0.7" fill="#f2f2f2" stroke="#333" stroke-width="0.5"/><rect x="217.1" y="608.8" width="3.1" height="7.4" rx="0.7" fill="#f2f2f2" stroke="#333" stroke-width="0.5"/><rect x="221.6" y="608.8" width="3.1" height="7.4" rx="0.7" fill="#f2f2f2" stroke="#333" stroke-width="0.5"/><rect x="226.1" y="608.8" width="3.1" height="7.4" rx="0.7" fill="#f2f2f2" stroke="#333" stroke-width="0.5"/><rect x="202.2" y="617.8" width="2.9" height="7.4" rx="0.7" fill="#f2f2f2" stroke="#333" stroke-width="0.5"/><rect x="206.5" y="617.8" width="2.9" height="7.4" rx="0.7" fill="#f2f2f2" stroke="#333" stroke-width="0.5"/><rect x="210.7" y="617.8" width="2.9" height="7.4" rx="0.7" fill="#f2f2f2" stroke="#333" stroke-width="0.5"/><rect x="215" y="617.8" width="2.9" height="7.4" rx="0.7" fill="#f2f2f2" stroke="#333" stroke-width="0.5"/><rect x="219.2" y="617.8" width="2.9" height="7.4" rx="0.7" fill="#f2f2f2" stroke="#333" stroke-width="0.5"/><rect x="223.5" y="617.8" width="2.9" height="7.4" rx="0.7" fill="#f2f2f2" stroke="#333" stroke-width="0.5"/><rect x="227.7" y="617.8" width="2.9" height="7.4" rx="0.7" fill="#f2f2f2" stroke="#333" stroke-width="0.5"/><rect x="200.8" y="626.8" width="3.3" height="7.4" rx="0.7" fill="#f2f2f2" stroke="#333" stroke-width="0.5"/><rect x="205.5" y="626.8" width="3.3" height="7.4" rx="0.7" fill="#f2f2f2" stroke="#333" stroke-width="0.5"/><rect x="210.1" y="626.8" width="3.3" height="7.4" rx="0.7" fill="#f2f2f2" stroke="#333" stroke-width="0.5"/><rect x="214.8" y="626.8" width="3.3" height="7.4" rx="0.7" fill="#f2f2f2" stroke="#333" stroke-width="0.5"/><rect x="219.4" y="626.8" width="3.3" height="7.4" rx="0.7" fill="#f2f2f2" stroke="#333" stroke-width="0.5"/><rect x="224.1" y="626.8" width="3.3" height="7.4" rx="0.7" fill="#f2f2f2" stroke="#333" stroke-width="0.5"/><rect x="228.7" y="626.8" width="3.3" height="7.4" rx="0.7" fill="#f2f2f2" stroke="#333" stroke-width="0.5"/><polyline points="205.1,599 227.9,599" fill="none" stroke="#eee" stroke-width="1" stroke-linecap="round" stroke-linejoin="round"/><polyline points="203.7,608 229.3,608" fill="none" stroke="#eee" stroke-width="1" stroke-linecap="round" stroke-linejoin="round"/><polyline points="202.3,617 230.7,617" fill="none" stroke="#eee" stroke-width="1" stroke-linecap="round" stroke-linejoin="round"/><polyline points="200.9,626 232.1,626" fill="none" stroke="#eee" stroke-width="1" stroke-linecap="round" stroke-linejoin="round"/><rect x="216.2" y="588" width="3.2" height="47" fill="#fff" stroke="#474747" stroke-width="0.6"/><polygon points="196.9,635.2 245.8,633.4 244,638 230.8,645.1 216.7,647 200.2,642.8" fill="#ea7f87" stroke="#b8303c" stroke-width="0.8" stroke-linejoin="round"/><polyline points="207,660 207,652.2" fill="none" stroke="#d81e2c" stroke-width="0.8" stroke-linecap="round" stroke-linejoin="round"/><polygon points="207,649 208.8,652.2 205.2,652.2" fill="#d81e2c"/><polyline points="218,662 218,653.2" fill="none" stroke="#d81e2c" stroke-width="0.8" stroke-linecap="round" stroke-linejoin="round"/><polygon points="218,650 219.8,653.2 216.2,653.2" fill="#d81e2c"/><polygon points="232,656 235.5,650 239,656" fill="#a8c820"/><use href="#rig" x="528.5" y="-14"/><use href="#rakeR" x="528.5" y="-14"/><polygon points="772,122 788,122 795.5,162.5 764.5,162.5" fill="#9c9c9c" stroke="#474747" stroke-width="0.7" stroke-linejoin="round"/><rect x="771.9" y="122.8" width="3" height="6.5" rx="0.7" fill="#f2f2f2" stroke="#333" stroke-width="0.5"/><rect x="776.2" y="122.8" width="3" height="6.5" rx="0.7" fill="#f2f2f2" stroke="#333" stroke-width="0.5"/><rect x="780.6" y="122.8" width="3" height="6.5" rx="0.7" fill="#f2f2f2" stroke="#333" stroke-width="0.5"/><rect x="785" y="122.8" width="3" height="6.5" rx="0.7" fill="#f2f2f2" stroke="#333" stroke-width="0.5"/><rect x="770.4" y="130.9" width="3.7" height="6.5" rx="0.7" fill="#f2f2f2" stroke="#333" stroke-width="0.5"/><rect x="775.5" y="130.9" width="3.7" height="6.5" rx="0.7" fill="#f2f2f2" stroke="#333" stroke-width="0.5"/><rect x="780.6" y="130.9" width="3.7" height="6.5" rx="0.7" fill="#f2f2f2" stroke="#333" stroke-width="0.5"/><rect x="785.7" y="130.9" width="3.7" height="6.5" rx="0.7" fill="#f2f2f2" stroke="#333" stroke-width="0.5"/><rect x="768.9" y="139" width="3.3" height="6.5" rx="0.7" fill="#f2f2f2" stroke="#333" stroke-width="0.5"/><rect x="773.6" y="139" width="3.3" height="6.5" rx="0.7" fill="#f2f2f2" stroke="#333" stroke-width="0.5"/><rect x="778.2" y="139" width="3.3" height="6.5" rx="0.7" fill="#f2f2f2" stroke="#333" stroke-width="0.5"/><rect x="783" y="139" width="3.3" height="6.5" rx="0.7" fill="#f2f2f2" stroke="#333" stroke-width="0.5"/><rect x="787.6" y="139" width="3.3" height="6.5" rx="0.7" fill="#f2f2f2" stroke="#333" stroke-width="0.5"/><rect x="767.4" y="147.1" width="3" height="6.5" rx="0.7" fill="#f2f2f2" stroke="#333" stroke-width="0.5"/><rect x="771.8" y="147.1" width="3" height="6.5" rx="0.7" fill="#f2f2f2" stroke="#333" stroke-width="0.5"/><rect x="776.2" y="147.1" width="3" height="6.5" rx="0.7" fill="#f2f2f2" stroke="#333" stroke-width="0.5"/><rect x="780.6" y="147.1" width="3" height="6.5" rx="0.7" fill="#f2f2f2" stroke="#333" stroke-width="0.5"/><rect x="785" y="147.1" width="3" height="6.5" rx="0.7" fill="#f2f2f2" stroke="#333" stroke-width="0.5"/><rect x="789.4" y="147.1" width="3" height="6.5" rx="0.7" fill="#f2f2f2" stroke="#333" stroke-width="0.5"/><rect x="765.9" y="155.2" width="2.8" height="6.5" rx="0.7" fill="#f2f2f2" stroke="#333" stroke-width="0.5"/><rect x="770.1" y="155.2" width="2.8" height="6.5" rx="0.7" fill="#f2f2f2" stroke="#333" stroke-width="0.5"/><rect x="774.3" y="155.2" width="2.8" height="6.5" rx="0.7" fill="#f2f2f2" stroke="#333" stroke-width="0.5"/><rect x="778.5" y="155.2" width="2.8" height="6.5" rx="0.7" fill="#f2f2f2" stroke="#333" stroke-width="0.5"/><rect x="782.7" y="155.2" width="2.8" height="6.5" rx="0.7" fill="#f2f2f2" stroke="#333" stroke-width="0.5"/><rect x="786.9" y="155.2" width="2.8" height="6.5" rx="0.7" fill="#f2f2f2" stroke="#333" stroke-width="0.5"/><rect x="791.1" y="155.2" width="2.8" height="6.5" rx="0.7" fill="#f2f2f2" stroke="#333" stroke-width="0.5"/><polyline points="770.5,130.1 789.5,130.1" fill="none" stroke="#eee" stroke-width="1" stroke-linecap="round" stroke-linejoin="round"/><polyline points="769,138.2 791,138.2" fill="none" stroke="#eee" stroke-width="1" stroke-linecap="round" stroke-linejoin="round"/><polyline points="767.5,146.3 792.5,146.3" fill="none" stroke="#eee" stroke-width="1" stroke-linecap="round" stroke-linejoin="round"/><polyline points="766,154.4 794,154.4" fill="none" stroke="#eee" stroke-width="1" stroke-linecap="round" stroke-linejoin="round"/><rect x="778.7" y="120" width="3.2" height="42.5" fill="#fff" stroke="#474747" stroke-width="0.6"/><polygon points="762.6,162.5 800,166 800,173.4 797.3,180.2 779.6,184.3 764.7,181.6 762.5,172" fill="#fff" stroke="#474747" stroke-width="0.7" stroke-linejoin="round"/><polygon points="762.6,162.5 800,166 799,171 763.6,167.5" fill="#ececec" stroke="#474747" stroke-width="0.6" stroke-linejoin="round"/><polyline points="779.5,162.5 779.5,184.3" fill="none" stroke="#474747" stroke-width="0.6" stroke-linecap="round" stroke-linejoin="round"/><polygon points="847.3,72 863.3,72 872.3,104 838.3,104" fill="#9c9c9c" stroke="#474747" stroke-width="0.7" stroke-linejoin="round"/><rect x="847" y="72.8" width="3" height="4.8" rx="0.7" fill="#f2f2f2" stroke="#333" stroke-width="0.5"/><rect x="851.4" y="72.8" width="3" height="4.8" rx="0.7" fill="#f2f2f2" stroke="#333" stroke-width="0.5"/><rect x="855.9" y="72.8" width="3" height="4.8" rx="0.7" fill="#f2f2f2" stroke="#333" stroke-width="0.5"/><rect x="860.4" y="72.8" width="3" height="4.8" rx="0.7" fill="#f2f2f2" stroke="#333" stroke-width="0.5"/><rect x="845.2" y="79.2" width="2.9" height="4.8" rx="0.7" fill="#f2f2f2" stroke="#333" stroke-width="0.5"/><rect x="849.5" y="79.2" width="2.9" height="4.8" rx="0.7" fill="#f2f2f2" stroke="#333" stroke-width="0.5"/><rect x="853.8" y="79.2" width="2.9" height="4.8" rx="0.7" fill="#f2f2f2" stroke="#333" stroke-width="0.5"/><rect x="858" y="79.2" width="2.9" height="4.8" rx="0.7" fill="#f2f2f2" stroke="#333" stroke-width="0.5"/><rect x="862.3" y="79.2" width="2.9" height="4.8" rx="0.7" fill="#f2f2f2" stroke="#333" stroke-width="0.5"/><rect x="843.4" y="85.6" width="3.6" height="4.8" rx="0.7" fill="#f2f2f2" stroke="#333" stroke-width="0.5"/><rect x="848.4" y="85.6" width="3.6" height="4.8" rx="0.7" fill="#f2f2f2" stroke="#333" stroke-width="0.5"/><rect x="853.4" y="85.6" width="3.6" height="4.8" rx="0.7" fill="#f2f2f2" stroke="#333" stroke-width="0.5"/><rect x="858.4" y="85.6" width="3.6" height="4.8" rx="0.7" fill="#f2f2f2" stroke="#333" stroke-width="0.5"/><rect x="863.4" y="85.6" width="3.6" height="4.8" rx="0.7" fill="#f2f2f2" stroke="#333" stroke-width="0.5"/><rect x="841.6" y="92" width="3.4" height="4.8" rx="0.7" fill="#f2f2f2" stroke="#333" stroke-width="0.5"/><rect x="846.4" y="92" width="3.4" height="4.8" rx="0.7" fill="#f2f2f2" stroke="#333" stroke-width="0.5"/><rect x="851.1" y="92" width="3.4" height="4.8" rx="0.7" fill="#f2f2f2" stroke="#333" stroke-width="0.5"/><rect x="855.9" y="92" width="3.4" height="4.8" rx="0.7" fill="#f2f2f2" stroke="#333" stroke-width="0.5"/><rect x="860.7" y="92" width="3.4" height="4.8" rx="0.7" fill="#f2f2f2" stroke="#333" stroke-width="0.5"/><rect x="865.4" y="92" width="3.4" height="4.8" rx="0.7" fill="#f2f2f2" stroke="#333" stroke-width="0.5"/><rect x="839.8" y="98.4" width="3.2" height="4.8" rx="0.7" fill="#f2f2f2" stroke="#333" stroke-width="0.5"/><rect x="844.4" y="98.4" width="3.2" height="4.8" rx="0.7" fill="#f2f2f2" stroke="#333" stroke-width="0.5"/><rect x="849" y="98.4" width="3.2" height="4.8" rx="0.7" fill="#f2f2f2" stroke="#333" stroke-width="0.5"/><rect x="853.6" y="98.4" width="3.2" height="4.8" rx="0.7" fill="#f2f2f2" stroke="#333" stroke-width="0.5"/><rect x="858.2" y="98.4" width="3.2" height="4.8" rx="0.7" fill="#f2f2f2" stroke="#333" stroke-width="0.5"/><rect x="862.8" y="98.4" width="3.2" height="4.8" rx="0.7" fill="#f2f2f2" stroke="#333" stroke-width="0.5"/><rect x="867.4" y="98.4" width="3.2" height="4.8" rx="0.7" fill="#f2f2f2" stroke="#333" stroke-width="0.5"/><polyline points="845.5,78.4 865.1,78.4" fill="none" stroke="#eee" stroke-width="1" stroke-linecap="round" stroke-linejoin="round"/><polyline points="843.7,84.8 866.9,84.8" fill="none" stroke="#eee" stroke-width="1" stroke-linecap="round" stroke-linejoin="round"/><polyline points="841.9,91.2 868.7,91.2" fill="none" stroke="#eee" stroke-width="1" stroke-linecap="round" stroke-linejoin="round"/><polyline points="840.1,97.6 870.5,97.6" fill="none" stroke="#eee" stroke-width="1" stroke-linecap="round" stroke-linejoin="round"/><rect x="853.5" y="70" width="3.2" height="34" fill="#fff" stroke="#474747" stroke-width="0.6"/><polygon points="837.8,104 872.9,104 872.9,114 837.8,115.5" fill="#fff" stroke="#474747" stroke-width="0.7" stroke-linejoin="round"/><polygon points="837.8,104 872.9,104 871.9,109 838.8,109" fill="#ececec" stroke="#474747" stroke-width="0.6" stroke-linejoin="round"/><polyline points="854.8,104 854.8,115.5" fill="none" stroke="#474747" stroke-width="0.6" stroke-linecap="round" stroke-linejoin="round"/><polygon points="837.8,114.9 885.3,113.4 881.7,121.4 871.4,127.3 855.3,128.8 839.2,124.4" fill="#ea7f87" stroke="#b8303c" stroke-width="0.8" stroke-linejoin="round"/><polyline points="838.5,120 881.5,117" fill="none" stroke="#b8303c" stroke-width="0.6" stroke-linecap="round" stroke-linejoin="round"/><polyline points="845.8,139.7 845.8,128.7" fill="none" stroke="#d81e2c" stroke-width="0.8" stroke-linecap="round" stroke-linejoin="round"/><polygon points="845.8,125.5 847.6,128.7 844,128.7" fill="#d81e2c"/><polyline points="862.6,143.4 862.6,132.2" fill="none" stroke="#d81e2c" stroke-width="0.8" stroke-linecap="round" stroke-linejoin="round"/><polygon points="862.6,129 864.4,132.2 860.8,132.2" fill="#d81e2c"/><polygon points="865.6,136.1 869.2,130.2 872.9,136.1" fill="#a8c820"/><path d="M987 106.7 C995 101 1008 104 1006 113 C1004 122 995 128 975 131" fill="none" stroke="#e04050" stroke-width="0.8" stroke-linejoin="round" stroke-linecap="round" /><polygon points="971,131.2 976,128.6 976,133.6" fill="#d81e2c"/><path d="M985.1 523.7 C990 533 1000 543 1025.1 547 C1050 543 1070 537 1094.7 531.5 C1130 520 1150 510 1161.7 503.1 C1180 492 1192 484 1197.8 477.3 L1205.5 465.7 L1009.6 527.6 Z" fill="#f5f5f5" stroke="#474747" stroke-width="0.8" stroke-linejoin="round" stroke-linecap="round" /><polygon points="974.2,493.8 1183.5,421.9 1170.2,444.8 1134.6,458.1 1128.6,470 1066.3,487.8 1042.5,496.7 1001,498.2 959.4,508.6 952,505 944.5,498.2 950.5,494" fill="#c2c2c2" stroke="#474747" stroke-width="0.8" stroke-linejoin="round"/><path d="M944.5 498.2 c-3 -1 -4 -3 -2 -5 c2 1 3 0 3 -2 c2 1 3 3 5 3" fill="#c2c2c2" stroke="#474747" stroke-width="0.7" stroke-linejoin="round" stroke-linecap="round" /><path d="M943.4 507.8 C945 513 949 517 952 515.6 C956 513 962 515 968 518.5 L970 522 L972 519 C982 520 992 520 1000 522 C1004 523 1006 525 1008.3 526.6" fill="none" stroke="#474747" stroke-width="0.7" stroke-linejoin="round" stroke-linecap="round" /><path d="M963.8 470 L1009.9 449.2 L1014.3 453.7 L1078.1 437.4 L1082.6 425.5 L1143.5 404.7 L1149.4 381 L1199.9 363.1 L1211.8 355.7 L1205.8 378 L1182 422.5 L974.2 493.8 C960 494 945 492 932 491 L921 490 L916.3 487.8 L917.8 481.9 L925 484.5 L934.6 487.6 C945 484 955 478 963.8 470 Z" fill="#c9c9c9" stroke="#474747" stroke-width="0.8" stroke-linejoin="round" stroke-linecap="round" /><polyline points="963.8,470 974.2,493.8" fill="none" stroke="#474747" stroke-width="0.8" stroke-linecap="round" stroke-linejoin="round"/><path d="M917.8 481.9 c-2 -3 -1 -6 1 -7 c0 2 2 3 3 2 c1 -2 3 -2 4 0 c1 2 3 3 5 3" fill="#c9c9c9" stroke="#474747" stroke-width="0.7" stroke-linejoin="round" stroke-linecap="round" /><polyline points="992.3,477.7 994.4,477" fill="none" stroke="#474747" stroke-width="0.7" stroke-linecap="round" stroke-linejoin="round"/><polyline points="1009,472.3 1011,471.7" fill="none" stroke="#474747" stroke-width="0.7" stroke-linecap="round" stroke-linejoin="round"/><polyline points="1025.6,467 1027.7,466.3" fill="none" stroke="#474747" stroke-width="0.7" stroke-linecap="round" stroke-linejoin="round"/><polyline points="1060.2,456.3 1062.3,455.7" fill="none" stroke="#474747" stroke-width="0.7" stroke-linecap="round" stroke-linejoin="round"/><polyline points="1072.7,452.3 1074.8,451.7" fill="none" stroke="#474747" stroke-width="0.7" stroke-linecap="round" stroke-linejoin="round"/><polyline points="1116.4,415.1 1118.6,414.4" fill="none" stroke="#474747" stroke-width="0.7" stroke-linecap="round" stroke-linejoin="round"/><polyline points="1131.4,410.6 1133.6,409.9" fill="none" stroke="#474747" stroke-width="0.7" stroke-linecap="round" stroke-linejoin="round"/><line x1="1180" y1="384" x2="1198" y2="377" stroke="#474747" stroke-width="2.8" stroke-linecap="round"/><line x1="1180" y1="384" x2="1198" y2="377" stroke="#fff" stroke-width="1.6" stroke-linecap="round"/><path d="M1001.9 496.7 L1008.3 526.3 L1009.6 527.6 L1205.5 465.7 C1220 458 1235 445 1245 432 C1252 422 1257 410 1259.3 395.8 L1256 390 C1240 394 1225 400 1211.8 407.7 L1197.8 415.5 C1192 428 1182 440 1172 445.1 C1160 450 1140 458 1130.8 461.9 C1125 472 1110 478 1095 482 C1080 486 1070 489 1061.2 488.9 Z" fill="#fff" stroke="#474747" stroke-width="0.8" stroke-linejoin="round" stroke-linecap="round" /><line x1="1228" y1="425.5" x2="1252.5" y2="418.2" stroke="#474747" stroke-width="2.6" stroke-linecap="round"/><line x1="1228" y1="425.5" x2="1252.5" y2="418.2" stroke="#fff" stroke-width="1.4" stroke-linecap="round"/><polyline points="1036.4,498.1 1038.6,497.4" fill="none" stroke="#474747" stroke-width="0.7" stroke-linecap="round" stroke-linejoin="round"/><polyline points="1051.4,493.6 1053.6,492.9" fill="none" stroke="#474747" stroke-width="0.7" stroke-linecap="round" stroke-linejoin="round"/><polyline points="1126.5,475.4 1128.5,474.6" fill="none" stroke="#474747" stroke-width="0.7" stroke-linecap="round" stroke-linejoin="round"/><polyline points="1141.5,469.4 1143.5,468.6" fill="none" stroke="#474747" stroke-width="0.7" stroke-linecap="round" stroke-linejoin="round"/><polygon points="1238.5,381 1248,374 1259.3,392.8 1256,390 1238.5,398.8" fill="#c9c9c9" stroke="#474747" stroke-width="0.8" stroke-linejoin="round"/><path d="M1185 440 l12 -22 l20 -10 l14 8 l-6 16 l6 10 l-16 18 l-18 6 z" fill="none" stroke="#d0d0d0" stroke-width="0.4" stroke-linejoin="round" stroke-linecap="round" /><use href="#rig" x="771.5" y="124"/><use href="#rakeD" x="771.5" y="124"/><polygon points="1015,260 1031,260 1038.5,300.5 1007.5,300.5" fill="#9c9c9c" stroke="#474747" stroke-width="0.7" stroke-linejoin="round"/><rect x="1014.9" y="260.8" width="3" height="6.5" rx="0.7" fill="#f2f2f2" stroke="#333" stroke-width="0.5"/><rect x="1019.2" y="260.8" width="3" height="6.5" rx="0.7" fill="#f2f2f2" stroke="#333" stroke-width="0.5"/><rect x="1023.6" y="260.8" width="3" height="6.5" rx="0.7" fill="#f2f2f2" stroke="#333" stroke-width="0.5"/><rect x="1028" y="260.8" width="3" height="6.5" rx="0.7" fill="#f2f2f2" stroke="#333" stroke-width="0.5"/><rect x="1013.4" y="268.9" width="3.7" height="6.5" rx="0.7" fill="#f2f2f2" stroke="#333" stroke-width="0.5"/><rect x="1018.5" y="268.9" width="3.7" height="6.5" rx="0.7" fill="#f2f2f2" stroke="#333" stroke-width="0.5"/><rect x="1023.6" y="268.9" width="3.7" height="6.5" rx="0.7" fill="#f2f2f2" stroke="#333" stroke-width="0.5"/><rect x="1028.7" y="268.9" width="3.7" height="6.5" rx="0.7" fill="#f2f2f2" stroke="#333" stroke-width="0.5"/><rect x="1011.9" y="277" width="3.3" height="6.5" rx="0.7" fill="#f2f2f2" stroke="#333" stroke-width="0.5"/><rect x="1016.6" y="277" width="3.3" height="6.5" rx="0.7" fill="#f2f2f2" stroke="#333" stroke-width="0.5"/><rect x="1021.2" y="277" width="3.3" height="6.5" rx="0.7" fill="#f2f2f2" stroke="#333" stroke-width="0.5"/><rect x="1025.9" y="277" width="3.3" height="6.5" rx="0.7" fill="#f2f2f2" stroke="#333" stroke-width="0.5"/><rect x="1030.6" y="277" width="3.3" height="6.5" rx="0.7" fill="#f2f2f2" stroke="#333" stroke-width="0.5"/><rect x="1010.4" y="285.1" width="3" height="6.5" rx="0.7" fill="#f2f2f2" stroke="#333" stroke-width="0.5"/><rect x="1014.8" y="285.1" width="3" height="6.5" rx="0.7" fill="#f2f2f2" stroke="#333" stroke-width="0.5"/><rect x="1019.2" y="285.1" width="3" height="6.5" rx="0.7" fill="#f2f2f2" stroke="#333" stroke-width="0.5"/><rect x="1023.6" y="285.1" width="3" height="6.5" rx="0.7" fill="#f2f2f2" stroke="#333" stroke-width="0.5"/><rect x="1028" y="285.1" width="3" height="6.5" rx="0.7" fill="#f2f2f2" stroke="#333" stroke-width="0.5"/><rect x="1032.4" y="285.1" width="3" height="6.5" rx="0.7" fill="#f2f2f2" stroke="#333" stroke-width="0.5"/><rect x="1008.9" y="293.2" width="2.8" height="6.5" rx="0.7" fill="#f2f2f2" stroke="#333" stroke-width="0.5"/><rect x="1013.1" y="293.2" width="2.8" height="6.5" rx="0.7" fill="#f2f2f2" stroke="#333" stroke-width="0.5"/><rect x="1017.3" y="293.2" width="2.8" height="6.5" rx="0.7" fill="#f2f2f2" stroke="#333" stroke-width="0.5"/><rect x="1021.5" y="293.2" width="2.8" height="6.5" rx="0.7" fill="#f2f2f2" stroke="#333" stroke-width="0.5"/><rect x="1025.7" y="293.2" width="2.8" height="6.5" rx="0.7" fill="#f2f2f2" stroke="#333" stroke-width="0.5"/><rect x="1029.9" y="293.2" width="2.8" height="6.5" rx="0.7" fill="#f2f2f2" stroke="#333" stroke-width="0.5"/><rect x="1034.1" y="293.2" width="2.8" height="6.5" rx="0.7" fill="#f2f2f2" stroke="#333" stroke-width="0.5"/><polyline points="1013.5,268.1 1032.5,268.1" fill="none" stroke="#eee" stroke-width="1" stroke-linecap="round" stroke-linejoin="round"/><polyline points="1012,276.2 1034,276.2" fill="none" stroke="#eee" stroke-width="1" stroke-linecap="round" stroke-linejoin="round"/><polyline points="1010.5,284.3 1035.5,284.3" fill="none" stroke="#eee" stroke-width="1" stroke-linecap="round" stroke-linejoin="round"/><polyline points="1009,292.4 1037,292.4" fill="none" stroke="#eee" stroke-width="1" stroke-linecap="round" stroke-linejoin="round"/><rect x="1021.7" y="258" width="3.2" height="42.5" fill="#fff" stroke="#474747" stroke-width="0.6"/><polygon points="1005.6,300.5 1043,304 1043,311.4 1040.3,318.2 1022.6,322.3 1007.7,319.6 1005.5,310" fill="#fff" stroke="#474747" stroke-width="0.7" stroke-linejoin="round"/><polygon points="1005.6,300.5 1043,304 1042,309 1006.6,305.5" fill="#ececec" stroke="#474747" stroke-width="0.6" stroke-linejoin="round"/><polyline points="1022.5,300.5 1022.5,322.3" fill="none" stroke="#474747" stroke-width="0.6" stroke-linecap="round" stroke-linejoin="round"/><polygon points="1090.3,227 1104.3,227 1112.3,276 1082.3,276" fill="#9c9c9c" stroke="#474747" stroke-width="0.7" stroke-linejoin="round"/><rect x="1090.1" y="227.8" width="3.8" height="8.2" rx="0.7" fill="#f2f2f2" stroke="#333" stroke-width="0.5"/><rect x="1095.3" y="227.8" width="3.8" height="8.2" rx="0.7" fill="#f2f2f2" stroke="#333" stroke-width="0.5"/><rect x="1100.5" y="227.8" width="3.8" height="8.2" rx="0.7" fill="#f2f2f2" stroke="#333" stroke-width="0.5"/><rect x="1088.5" y="237.6" width="3.3" height="8.2" rx="0.7" fill="#f2f2f2" stroke="#333" stroke-width="0.5"/><rect x="1093.2" y="237.6" width="3.3" height="8.2" rx="0.7" fill="#f2f2f2" stroke="#333" stroke-width="0.5"/><rect x="1097.9" y="237.6" width="3.3" height="8.2" rx="0.7" fill="#f2f2f2" stroke="#333" stroke-width="0.5"/><rect x="1102.6" y="237.6" width="3.3" height="8.2" rx="0.7" fill="#f2f2f2" stroke="#333" stroke-width="0.5"/><rect x="1086.9" y="247.4" width="3" height="8.2" rx="0.7" fill="#f2f2f2" stroke="#333" stroke-width="0.5"/><rect x="1091.3" y="247.4" width="3" height="8.2" rx="0.7" fill="#f2f2f2" stroke="#333" stroke-width="0.5"/><rect x="1095.7" y="247.4" width="3" height="8.2" rx="0.7" fill="#f2f2f2" stroke="#333" stroke-width="0.5"/><rect x="1100.1" y="247.4" width="3" height="8.2" rx="0.7" fill="#f2f2f2" stroke="#333" stroke-width="0.5"/><rect x="1104.5" y="247.4" width="3" height="8.2" rx="0.7" fill="#f2f2f2" stroke="#333" stroke-width="0.5"/><rect x="1085.3" y="257.2" width="3.6" height="8.2" rx="0.7" fill="#f2f2f2" stroke="#333" stroke-width="0.5"/><rect x="1090.3" y="257.2" width="3.6" height="8.2" rx="0.7" fill="#f2f2f2" stroke="#333" stroke-width="0.5"/><rect x="1095.4" y="257.2" width="3.6" height="8.2" rx="0.7" fill="#f2f2f2" stroke="#333" stroke-width="0.5"/><rect x="1100.4" y="257.2" width="3.6" height="8.2" rx="0.7" fill="#f2f2f2" stroke="#333" stroke-width="0.5"/><rect x="1105.5" y="257.2" width="3.6" height="8.2" rx="0.7" fill="#f2f2f2" stroke="#333" stroke-width="0.5"/><rect x="1083.7" y="267" width="3.3" height="8.2" rx="0.7" fill="#f2f2f2" stroke="#333" stroke-width="0.5"/><rect x="1088.4" y="267" width="3.3" height="8.2" rx="0.7" fill="#f2f2f2" stroke="#333" stroke-width="0.5"/><rect x="1093.2" y="267" width="3.3" height="8.2" rx="0.7" fill="#f2f2f2" stroke="#333" stroke-width="0.5"/><rect x="1097.9" y="267" width="3.3" height="8.2" rx="0.7" fill="#f2f2f2" stroke="#333" stroke-width="0.5"/><rect x="1102.6" y="267" width="3.3" height="8.2" rx="0.7" fill="#f2f2f2" stroke="#333" stroke-width="0.5"/><rect x="1107.4" y="267" width="3.3" height="8.2" rx="0.7" fill="#f2f2f2" stroke="#333" stroke-width="0.5"/><polyline points="1088.7,236.8 1105.9,236.8" fill="none" stroke="#eee" stroke-width="1" stroke-linecap="round" stroke-linejoin="round"/><polyline points="1087.1,246.6 1107.5,246.6" fill="none" stroke="#eee" stroke-width="1" stroke-linecap="round" stroke-linejoin="round"/><polyline points="1085.5,256.4 1109.1,256.4" fill="none" stroke="#eee" stroke-width="1" stroke-linecap="round" stroke-linejoin="round"/><polyline points="1083.9,266.2 1110.7,266.2" fill="none" stroke="#eee" stroke-width="1" stroke-linecap="round" stroke-linejoin="round"/><rect x="1096.5" y="225" width="3.2" height="51" fill="#fff" stroke="#474747" stroke-width="0.6"/><polygon points="1080.4,276.1 1117.7,276.5 1117.7,278.8 1112.3,284.2 1098.7,289.7 1083.7,285.6" fill="#fff" stroke="#474747" stroke-width="0.7" stroke-linejoin="round"/><polygon points="1080.4,276.1 1117.7,276.5 1116.7,281.5 1081.4,281.1" fill="#ececec" stroke="#474747" stroke-width="0.6" stroke-linejoin="round"/><polyline points="1096.8,276 1096.8,289.7" fill="none" stroke="#474747" stroke-width="0.6" stroke-linecap="round" stroke-linejoin="round"/><polyline points="972.7,416.6 969.1,465.3" fill="none" stroke="#d81e2c" stroke-width="0.8" stroke-linecap="round" stroke-linejoin="round"/><polygon points="968.9,468.5 967.4,465.2 970.9,465.4" fill="#d81e2c"/><polyline points="1014.3,431.4 1015.8,508.6" fill="none" stroke="#d8404c" stroke-width="0.8" stroke-linecap="round" stroke-linejoin="round"/><polyline points="1013.6,508.6 1018,508.6" fill="none" stroke="#d8404c" stroke-width="0.8" stroke-linecap="round" stroke-linejoin="round"/><polyline points="1015.5,432 1022.1,449.2" fill="none" stroke="#d81e2c" stroke-width="0.8" stroke-linecap="round" stroke-linejoin="round"/><polygon points="1023.2,452.2 1020.4,449.8 1023.7,448.6" fill="#d81e2c"/><polyline points="1070.7,418 1070.7,495.3" fill="none" stroke="#d8404c" stroke-width="0.8" stroke-linecap="round" stroke-linejoin="round"/><polyline points="1068.5,495.3 1072.9,495.3" fill="none" stroke="#d8404c" stroke-width="0.8" stroke-linecap="round" stroke-linejoin="round"/><polyline points="1106.4,404.7 1109.7,413.6" fill="none" stroke="#d81e2c" stroke-width="0.8" stroke-linecap="round" stroke-linejoin="round"/><polygon points="1110.8,416.6 1108,414.2 1111.3,413" fill="#d81e2c"/><polyline points="1156.8,381 1157.7,458.1" fill="none" stroke="#d8404c" stroke-width="0.8" stroke-linecap="round" stroke-linejoin="round"/><polyline points="1155.5,458.1 1159.9,458.1" fill="none" stroke="#d8404c" stroke-width="0.8" stroke-linecap="round" stroke-linejoin="round"/><polyline points="1202.9,358.7 1203.4,429.7" fill="none" stroke="#e89aa0" stroke-width="0.8" stroke-linecap="round" stroke-linejoin="round"/><polygon points="1203.4,432.9 1201.6,429.7 1205.1,429.7" fill="#e89aa0"/><polyline points="1234,300.8 1244,380.7" fill="none" stroke="#d81e2c" stroke-width="0.8" stroke-linecap="round" stroke-linejoin="round"/><polygon points="1244.4,383.9 1242.3,380.9 1245.7,380.5" fill="#d81e2c"/><polyline points="1244.4,383.9 1234.2,303.7" fill="none" stroke="#d81e2c" stroke-width="0.8" stroke-linecap="round" stroke-linejoin="round"/><polygon points="1233.8,300.5 1235.9,303.5 1232.5,303.9" fill="#d81e2c"/><polyline points="1242.9,300.8 1255.8,388.1" fill="none" stroke="#d81e2c" stroke-width="0.8" stroke-linecap="round" stroke-linejoin="round"/><polygon points="1256.3,391.3 1254.1,388.4 1257.6,387.9" fill="#d81e2c"/><polyline points="1256.3,391.3 1243.1,304.2" fill="none" stroke="#d81e2c" stroke-width="0.8" stroke-linecap="round" stroke-linejoin="round"/><polygon points="1242.6,301 1244.8,303.9 1241.3,304.4" fill="#d81e2c"/><polyline points="1238.5,383.9 1212.8,363.7" fill="none" stroke="#d81e2c" stroke-width="0.8" stroke-linecap="round" stroke-linejoin="round"/><polygon points="1210.3,361.7 1213.9,362.3 1211.7,365.1" fill="#d81e2c"/><polyline points="1210.3,361.7 1236,381.9" fill="none" stroke="#d81e2c" stroke-width="0.8" stroke-linecap="round" stroke-linejoin="round"/><polygon points="1238.5,383.9 1234.9,383.3 1237.1,380.5" fill="#d81e2c"/><polyline points="1237,395.8 1211.2,374.1" fill="none" stroke="#d81e2c" stroke-width="0.8" stroke-linecap="round" stroke-linejoin="round"/><polygon points="1208.8,372 1212.4,372.7 1210.1,375.4" fill="#d81e2c"/><polyline points="1208.8,372 1234.6,393.7" fill="none" stroke="#d81e2c" stroke-width="0.8" stroke-linecap="round" stroke-linejoin="round"/><polygon points="1237,395.8 1233.4,395.1 1235.7,392.4" fill="#d81e2c"/><polyline points="1180.6,430 1187,435.4" fill="none" stroke="#d81e2c" stroke-width="0.8" stroke-linecap="round" stroke-linejoin="round"/><polygon points="1189.5,437.4 1185.9,436.7 1188.2,434" fill="#d81e2c"/><circle cx="962.4" cy="459.6" r="3.6" fill="#0a86d4"/><circle cx="1031.5" cy="445.4" r="3.6" fill="#0a86d4"/><circle cx="1117.6" cy="406.2" r="3.6" fill="#0a86d4"/><circle cx="1189.5" cy="425.5" r="3.6" fill="#0a86d4"/><circle cx="1213.2" cy="438" r="3.6" fill="#0a86d4"/><circle cx="1159.2" cy="464.1" r="3.6" fill="#0a86d4"/><circle cx="1079" cy="500.3" r="3.6" fill="#0a86d4"/><circle cx="1011.3" cy="516.6" r="3.6" fill="#0a86d4"/><polygon points="918,829 972,817 1010,808 1010,816 972,826 920,838" fill="#c9c9c9" stroke="#474747" stroke-width="0.8" stroke-linejoin="round"/><polygon points="1105.2,753.7 1177,736.2 1176,748 1153.6,757 1130.2,763.7 1110.2,773.8" fill="#c9c9c9" stroke="#474747" stroke-width="0.8" stroke-linejoin="round"/><polygon points="1153.6,757 1176,748 1193.8,742 1153.6,760.4" fill="#ececec" stroke="#474747" stroke-width="0.6" stroke-linejoin="round"/><polygon points="905,851 915,843 925,837 946,843 953,850 945,858 930,860.5 912,860 905,856" fill="#c9c9c9" stroke="#474747" stroke-width="0.8" stroke-linejoin="round"/><polyline points="921.5,843 930.3,860.2" fill="none" stroke="#474747" stroke-width="0.7" stroke-linecap="round" stroke-linejoin="round"/><path d="M872 848.5 l1.5 -3 l2 2 l3 -1 l1 -2.5 l2 2 l-1 3 c4 2 8 3 12 2 c6 -1 10 -4 15 -6 l2 4 l-3 5 l-6 3 c-6 2 -12 3 -18 3 c-4 0 -6 2 -8 4 c-3 -3 -4 -6 -5 -10 z" fill="#cfcfcf" stroke="#474747" stroke-width="0.8" stroke-linejoin="round" stroke-linecap="round" /><path d="M905 862 c5 -3 10 -4 16 -3 c5 1 10 2 14 0 l6 -2 l3 6 c-6 3 -12 6 -18 6 c-6 0 -10 -2 -14 -2 c-3 0 -6 -2 -7 -5 z" fill="#fff" stroke="#474747" stroke-width="0.7" stroke-linejoin="round" stroke-linecap="round" /><polygon points="898.9,874 910.2,871.5 927.8,872.8 935.3,876.6 965.4,880.3 965.4,884 940.3,886.6 920.3,886.6 910.2,882.8" fill="#c9c9c9" stroke="#474747" stroke-width="0.8" stroke-linejoin="round"/><use href="#rig" x="727.3" y="555.8"/><use href="#rakeD2" x="727.3" y="555.8"/><polygon points="970.8,691.8 986.8,691.8 994.3,732.3 963.3,732.3" fill="#9c9c9c" stroke="#474747" stroke-width="0.7" stroke-linejoin="round"/><rect x="970.6" y="692.6" width="3" height="6.5" rx="0.7" fill="#f2f2f2" stroke="#333" stroke-width="0.5"/><rect x="975" y="692.6" width="3" height="6.5" rx="0.7" fill="#f2f2f2" stroke="#333" stroke-width="0.5"/><rect x="979.4" y="692.6" width="3" height="6.5" rx="0.7" fill="#f2f2f2" stroke="#333" stroke-width="0.5"/><rect x="983.8" y="692.6" width="3" height="6.5" rx="0.7" fill="#f2f2f2" stroke="#333" stroke-width="0.5"/><rect x="969.1" y="700.7" width="3.7" height="6.5" rx="0.7" fill="#f2f2f2" stroke="#333" stroke-width="0.5"/><rect x="974.3" y="700.7" width="3.7" height="6.5" rx="0.7" fill="#f2f2f2" stroke="#333" stroke-width="0.5"/><rect x="979.4" y="700.7" width="3.7" height="6.5" rx="0.7" fill="#f2f2f2" stroke="#333" stroke-width="0.5"/><rect x="984.5" y="700.7" width="3.7" height="6.5" rx="0.7" fill="#f2f2f2" stroke="#333" stroke-width="0.5"/><rect x="967.6" y="708.8" width="3.3" height="6.5" rx="0.7" fill="#f2f2f2" stroke="#333" stroke-width="0.5"/><rect x="972.4" y="708.8" width="3.3" height="6.5" rx="0.7" fill="#f2f2f2" stroke="#333" stroke-width="0.5"/><rect x="977" y="708.8" width="3.3" height="6.5" rx="0.7" fill="#f2f2f2" stroke="#333" stroke-width="0.5"/><rect x="981.8" y="708.8" width="3.3" height="6.5" rx="0.7" fill="#f2f2f2" stroke="#333" stroke-width="0.5"/><rect x="986.4" y="708.8" width="3.3" height="6.5" rx="0.7" fill="#f2f2f2" stroke="#333" stroke-width="0.5"/><rect x="966.1" y="716.9" width="3" height="6.5" rx="0.7" fill="#f2f2f2" stroke="#333" stroke-width="0.5"/><rect x="970.6" y="716.9" width="3" height="6.5" rx="0.7" fill="#f2f2f2" stroke="#333" stroke-width="0.5"/><rect x="975" y="716.9" width="3" height="6.5" rx="0.7" fill="#f2f2f2" stroke="#333" stroke-width="0.5"/><rect x="979.4" y="716.9" width="3" height="6.5" rx="0.7" fill="#f2f2f2" stroke="#333" stroke-width="0.5"/><rect x="983.8" y="716.9" width="3" height="6.5" rx="0.7" fill="#f2f2f2" stroke="#333" stroke-width="0.5"/><rect x="988.2" y="716.9" width="3" height="6.5" rx="0.7" fill="#f2f2f2" stroke="#333" stroke-width="0.5"/><rect x="964.6" y="725" width="2.8" height="6.5" rx="0.7" fill="#f2f2f2" stroke="#333" stroke-width="0.5"/><rect x="968.9" y="725" width="2.8" height="6.5" rx="0.7" fill="#f2f2f2" stroke="#333" stroke-width="0.5"/><rect x="973.1" y="725" width="2.8" height="6.5" rx="0.7" fill="#f2f2f2" stroke="#333" stroke-width="0.5"/><rect x="977.3" y="725" width="2.8" height="6.5" rx="0.7" fill="#f2f2f2" stroke="#333" stroke-width="0.5"/><rect x="981.5" y="725" width="2.8" height="6.5" rx="0.7" fill="#f2f2f2" stroke="#333" stroke-width="0.5"/><rect x="985.7" y="725" width="2.8" height="6.5" rx="0.7" fill="#f2f2f2" stroke="#333" stroke-width="0.5"/><rect x="989.9" y="725" width="2.8" height="6.5" rx="0.7" fill="#f2f2f2" stroke="#333" stroke-width="0.5"/><polyline points="969.3,699.9 988.3,699.9" fill="none" stroke="#eee" stroke-width="1" stroke-linecap="round" stroke-linejoin="round"/><polyline points="967.8,708 989.8,708" fill="none" stroke="#eee" stroke-width="1" stroke-linecap="round" stroke-linejoin="round"/><polyline points="966.3,716.1 991.3,716.1" fill="none" stroke="#eee" stroke-width="1" stroke-linecap="round" stroke-linejoin="round"/><polyline points="964.8,724.2 992.8,724.2" fill="none" stroke="#eee" stroke-width="1" stroke-linecap="round" stroke-linejoin="round"/><rect x="977.5" y="689.8" width="3.2" height="42.5" fill="#fff" stroke="#474747" stroke-width="0.6"/><polygon points="961.4,732.3 998.8,735.8 998.8,743.2 996.1,750 978.4,754.1 963.5,751.4 961.3,741.8" fill="#fff" stroke="#474747" stroke-width="0.7" stroke-linejoin="round"/><polygon points="961.4,732.3 998.8,735.8 997.8,740.8 962.4,737.3" fill="#ececec" stroke="#474747" stroke-width="0.6" stroke-linejoin="round"/><polyline points="978.3,732.3 978.3,754.1" fill="none" stroke="#474747" stroke-width="0.6" stroke-linecap="round" stroke-linejoin="round"/><polygon points="1046.1,658.8 1060.1,658.8 1068.1,707.8 1038.1,707.8" fill="#9c9c9c" stroke="#474747" stroke-width="0.7" stroke-linejoin="round"/><rect x="1045.9" y="659.6" width="3.8" height="8.2" rx="0.7" fill="#f2f2f2" stroke="#333" stroke-width="0.5"/><rect x="1051.1" y="659.6" width="3.8" height="8.2" rx="0.7" fill="#f2f2f2" stroke="#333" stroke-width="0.5"/><rect x="1056.3" y="659.6" width="3.8" height="8.2" rx="0.7" fill="#f2f2f2" stroke="#333" stroke-width="0.5"/><rect x="1044.3" y="669.4" width="3.3" height="8.2" rx="0.7" fill="#f2f2f2" stroke="#333" stroke-width="0.5"/><rect x="1049" y="669.4" width="3.3" height="8.2" rx="0.7" fill="#f2f2f2" stroke="#333" stroke-width="0.5"/><rect x="1053.7" y="669.4" width="3.3" height="8.2" rx="0.7" fill="#f2f2f2" stroke="#333" stroke-width="0.5"/><rect x="1058.4" y="669.4" width="3.3" height="8.2" rx="0.7" fill="#f2f2f2" stroke="#333" stroke-width="0.5"/><rect x="1042.7" y="679.2" width="3" height="8.2" rx="0.7" fill="#f2f2f2" stroke="#333" stroke-width="0.5"/><rect x="1047.1" y="679.2" width="3" height="8.2" rx="0.7" fill="#f2f2f2" stroke="#333" stroke-width="0.5"/><rect x="1051.5" y="679.2" width="3" height="8.2" rx="0.7" fill="#f2f2f2" stroke="#333" stroke-width="0.5"/><rect x="1055.9" y="679.2" width="3" height="8.2" rx="0.7" fill="#f2f2f2" stroke="#333" stroke-width="0.5"/><rect x="1060.3" y="679.2" width="3" height="8.2" rx="0.7" fill="#f2f2f2" stroke="#333" stroke-width="0.5"/><rect x="1041.1" y="689" width="3.6" height="8.2" rx="0.7" fill="#f2f2f2" stroke="#333" stroke-width="0.5"/><rect x="1046.1" y="689" width="3.6" height="8.2" rx="0.7" fill="#f2f2f2" stroke="#333" stroke-width="0.5"/><rect x="1051.2" y="689" width="3.6" height="8.2" rx="0.7" fill="#f2f2f2" stroke="#333" stroke-width="0.5"/><rect x="1056.2" y="689" width="3.6" height="8.2" rx="0.7" fill="#f2f2f2" stroke="#333" stroke-width="0.5"/><rect x="1061.3" y="689" width="3.6" height="8.2" rx="0.7" fill="#f2f2f2" stroke="#333" stroke-width="0.5"/><rect x="1039.5" y="698.8" width="3.3" height="8.2" rx="0.7" fill="#f2f2f2" stroke="#333" stroke-width="0.5"/><rect x="1044.2" y="698.8" width="3.3" height="8.2" rx="0.7" fill="#f2f2f2" stroke="#333" stroke-width="0.5"/><rect x="1049" y="698.8" width="3.3" height="8.2" rx="0.7" fill="#f2f2f2" stroke="#333" stroke-width="0.5"/><rect x="1053.7" y="698.8" width="3.3" height="8.2" rx="0.7" fill="#f2f2f2" stroke="#333" stroke-width="0.5"/><rect x="1058.4" y="698.8" width="3.3" height="8.2" rx="0.7" fill="#f2f2f2" stroke="#333" stroke-width="0.5"/><rect x="1063.2" y="698.8" width="3.3" height="8.2" rx="0.7" fill="#f2f2f2" stroke="#333" stroke-width="0.5"/><polyline points="1044.5,668.6 1061.7,668.6" fill="none" stroke="#eee" stroke-width="1" stroke-linecap="round" stroke-linejoin="round"/><polyline points="1042.9,678.4 1063.3,678.4" fill="none" stroke="#eee" stroke-width="1" stroke-linecap="round" stroke-linejoin="round"/><polyline points="1041.3,688.2 1064.9,688.2" fill="none" stroke="#eee" stroke-width="1" stroke-linecap="round" stroke-linejoin="round"/><polyline points="1039.7,698 1066.5,698" fill="none" stroke="#eee" stroke-width="1" stroke-linecap="round" stroke-linejoin="round"/><rect x="1052.3" y="656.8" width="3.2" height="51" fill="#fff" stroke="#474747" stroke-width="0.6"/><polygon points="1036.2,707.9 1073.5,708.3 1073.5,710.6 1068.1,716 1054.5,721.5 1039.5,717.4" fill="#fff" stroke="#474747" stroke-width="0.7" stroke-linejoin="round"/><polygon points="1036.2,707.9 1073.5,708.3 1072.5,713.3 1037.2,712.9" fill="#ececec" stroke="#474747" stroke-width="0.6" stroke-linejoin="round"/><polyline points="1052.6,707.8 1052.6,721.5" fill="none" stroke="#474747" stroke-width="0.6" stroke-linecap="round" stroke-linejoin="round"/><path d="M960 850.8 L964.3 880.3 L950 884 L946.3 888.7 C950 895 958 900 967.4 901.4 C980 903 992 904 1003.3 903.5 C1025 899 1045 893 1066.6 886.6 C1090 878 1110 866 1129.8 855 C1142 847 1152 838 1159.4 829.7 C1166 823 1170 816 1172 810.7 C1177 803 1181 797 1184.7 791.7 L1191 783.3 L1196 772 L1193.8 760 L1193.8 742 L1176 751.6 L1153.6 760.4 L1153.6 787.2 L1148 792 L1085.5 819 L1075 832 L1030 844 L1010 840 Z" fill="#f4f4f4" stroke="#474747" stroke-width="0.8" stroke-linejoin="round" stroke-linecap="round" /><polygon points="960,850.8 1010,840 1030,844 1075,832 1085.5,819 1148,792 1153.6,787.2 1153.6,760.4 1176,751.6 1193.8,742 1193.8,760 1196,772 1191,783.3 1184.7,791.7 1172,810.7 1159.4,821.2 961.1,882.4" fill="#fff" stroke="#474747" stroke-width="0.8" stroke-linejoin="round"/><polyline points="962,853.5 1010,843 1030,847 1075,835 1086,822 1146,797" fill="none" stroke="#777" stroke-width="0.6" stroke-linecap="round" stroke-linejoin="round"/><polygon points="1165.7,777 1164.5,774.5 1192,762 1205.8,769.6 1193,773" fill="#fff" stroke="#474747" stroke-width="0.8" stroke-linejoin="round"/><polyline points="1056.5,845.8 1058.5,845.2" fill="none" stroke="#474747" stroke-width="0.7" stroke-linecap="round" stroke-linejoin="round"/><polyline points="1071.5,840.8 1073.5,840.2" fill="none" stroke="#474747" stroke-width="0.7" stroke-linecap="round" stroke-linejoin="round"/><polyline points="1104,801.6 1106,800.9" fill="none" stroke="#474747" stroke-width="0.7" stroke-linecap="round" stroke-linejoin="round"/><polyline points="1114,798.1 1116,797.4" fill="none" stroke="#474747" stroke-width="0.7" stroke-linecap="round" stroke-linejoin="round"/><polyline points="1004,868.4 1006,867.6" fill="none" stroke="#474747" stroke-width="0.7" stroke-linecap="round" stroke-linejoin="round"/><polygon points="1191.4,742.2 1222.3,734.5 1235,734 1247.7,738 1260,745 1270.2,753.4 1235,766.8 1191.4,761.9" fill="#f0f0f0" stroke="#474747" stroke-width="0.8" stroke-linejoin="round"/><polygon points="1235,766.8 1270.2,754.1 1270.2,770.3 1235,784.4" fill="#f5f5f5" stroke="#474747" stroke-width="0.8" stroke-linejoin="round"/><polyline points="1222.3,734.5 1222.3,752.7 1250.5,761.9" fill="none" stroke="#474747" stroke-width="0.7" stroke-linecap="round" stroke-linejoin="round"/><polyline points="1222.3,752.7 1191.4,761.9" fill="none" stroke="#474747" stroke-width="0.7" stroke-linecap="round" stroke-linejoin="round"/><polyline points="1191.4,761.2 1243.9,747.2" fill="none" stroke="#d81e2c" stroke-width="0.8" stroke-linecap="round" stroke-linejoin="round"/><polygon points="1247,746.4 1244.4,748.9 1243.5,745.5" fill="#d81e2c"/><polyline points="1190,774.5 1250.2,763.2" fill="none" stroke="#e27a84" stroke-width="0.8" stroke-linecap="round" stroke-linejoin="round"/><polygon points="1253.3,762.6 1250.5,764.9 1249.8,761.5" fill="#e27a84"/><polygon points="67.6,387.8 71.5,389.5 74.5,390 74.5,395 71.5,395.5 67.6,397.2 68.5,392.5" fill="#fff" stroke="#474747" stroke-width="0.7" stroke-linejoin="round"/><polygon points="74.5,390 115.1,381.9 115.1,403.1 74.5,395" fill="#fff" stroke="#474747" stroke-width="0.7" stroke-linejoin="round"/><polyline points="74.5,391 115.1,386.1" fill="none" stroke="#555" stroke-width="0.5" stroke-linecap="round" stroke-linejoin="round"/><polyline points="74.5,392 115.1,390.4" fill="none" stroke="#555" stroke-width="0.5" stroke-linecap="round" stroke-linejoin="round"/><polyline points="74.5,393 115.1,394.6" fill="none" stroke="#555" stroke-width="0.5" stroke-linecap="round" stroke-linejoin="round"/><polyline points="74.5,394 115.1,398.9" fill="none" stroke="#555" stroke-width="0.5" stroke-linecap="round" stroke-linejoin="round"/><polyline points="82,388.5 82,396.5" fill="none" stroke="#555" stroke-width="0.5" stroke-linecap="round" stroke-linejoin="round"/><polyline points="89,387.1 89,397.9" fill="none" stroke="#555" stroke-width="0.5" stroke-linecap="round" stroke-linejoin="round"/><ellipse cx="94" cy="387.7" rx="2.3" ry="1.3" fill="#fff" stroke="#555" stroke-width="0.45"/><ellipse cx="94" cy="390.9" rx="2.3" ry="1.3" fill="#fff" stroke="#555" stroke-width="0.45"/><ellipse cx="94" cy="394.1" rx="2.3" ry="1.3" fill="#fff" stroke="#555" stroke-width="0.45"/><ellipse cx="94" cy="397.3" rx="2.3" ry="1.3" fill="#fff" stroke="#555" stroke-width="0.45"/><ellipse cx="99.5" cy="386.9" rx="2.3" ry="1.5" fill="#fff" stroke="#555" stroke-width="0.45"/><ellipse cx="99.5" cy="390.6" rx="2.3" ry="1.5" fill="#fff" stroke="#555" stroke-width="0.45"/><ellipse cx="99.5" cy="394.4" rx="2.3" ry="1.5" fill="#fff" stroke="#555" stroke-width="0.45"/><ellipse cx="99.5" cy="398.1" rx="2.3" ry="1.5" fill="#fff" stroke="#555" stroke-width="0.45"/><ellipse cx="105" cy="386.1" rx="2.3" ry="1.7" fill="#fff" stroke="#555" stroke-width="0.45"/><ellipse cx="105" cy="390.4" rx="2.3" ry="1.7" fill="#fff" stroke="#555" stroke-width="0.45"/><ellipse cx="105" cy="394.6" rx="2.3" ry="1.7" fill="#fff" stroke="#555" stroke-width="0.45"/><ellipse cx="105" cy="398.9" rx="2.3" ry="1.7" fill="#fff" stroke="#555" stroke-width="0.45"/><ellipse cx="110.5" cy="385.2" rx="2.3" ry="1.9" fill="#fff" stroke="#555" stroke-width="0.45"/><ellipse cx="110.5" cy="390.1" rx="2.3" ry="1.9" fill="#fff" stroke="#555" stroke-width="0.45"/><ellipse cx="110.5" cy="394.9" rx="2.3" ry="1.9" fill="#fff" stroke="#555" stroke-width="0.45"/><ellipse cx="110.5" cy="399.8" rx="2.3" ry="1.9" fill="#fff" stroke="#555" stroke-width="0.45"/><polygon points="115.1,381.9 129.5,385 129.5,401.3 115.1,403.1" fill="#fff" stroke="#474747" stroke-width="0.7" stroke-linejoin="round"/><polygon points="115.1,381.9 127,361.9 129.7,363.5 130.5,361.5 132.5,362.5 131.7,364.5 137,371.9 129.5,385" fill="#fff" stroke="#474747" stroke-width="0.7" stroke-linejoin="round"/><polygon points="115.1,403.1 126.4,423.1 129.4,421.5 130.2,423.5 132.2,422.5 131.4,420.5 137,414.4 129.5,401.3" fill="#fff" stroke="#474747" stroke-width="0.7" stroke-linejoin="round"/><polygon points="216.4,387.8 212.5,389.5 209.5,390 209.5,395 212.5,395.5 216.4,397.2 215.5,392.5" fill="#fff" stroke="#474747" stroke-width="0.7" stroke-linejoin="round"/><polygon points="209.5,390 168.9,381.9 168.9,403.1 209.5,395" fill="#fff" stroke="#474747" stroke-width="0.7" stroke-linejoin="round"/><polyline points="209.5,391 168.9,386.1" fill="none" stroke="#555" stroke-width="0.5" stroke-linecap="round" stroke-linejoin="round"/><polyline points="209.5,392 168.9,390.4" fill="none" stroke="#555" stroke-width="0.5" stroke-linecap="round" stroke-linejoin="round"/><polyline points="209.5,393 168.9,394.6" fill="none" stroke="#555" stroke-width="0.5" stroke-linecap="round" stroke-linejoin="round"/><polyline points="209.5,394 168.9,398.9" fill="none" stroke="#555" stroke-width="0.5" stroke-linecap="round" stroke-linejoin="round"/><polyline points="202,388.5 202,396.5" fill="none" stroke="#555" stroke-width="0.5" stroke-linecap="round" stroke-linejoin="round"/><polyline points="195,387.1 195,397.9" fill="none" stroke="#555" stroke-width="0.5" stroke-linecap="round" stroke-linejoin="round"/><ellipse cx="190" cy="387.7" rx="2.3" ry="1.3" fill="#fff" stroke="#555" stroke-width="0.45"/><ellipse cx="190" cy="390.9" rx="2.3" ry="1.3" fill="#fff" stroke="#555" stroke-width="0.45"/><ellipse cx="190" cy="394.1" rx="2.3" ry="1.3" fill="#fff" stroke="#555" stroke-width="0.45"/><ellipse cx="190" cy="397.3" rx="2.3" ry="1.3" fill="#fff" stroke="#555" stroke-width="0.45"/><ellipse cx="184.5" cy="386.9" rx="2.3" ry="1.5" fill="#fff" stroke="#555" stroke-width="0.45"/><ellipse cx="184.5" cy="390.6" rx="2.3" ry="1.5" fill="#fff" stroke="#555" stroke-width="0.45"/><ellipse cx="184.5" cy="394.4" rx="2.3" ry="1.5" fill="#fff" stroke="#555" stroke-width="0.45"/><ellipse cx="184.5" cy="398.1" rx="2.3" ry="1.5" fill="#fff" stroke="#555" stroke-width="0.45"/><ellipse cx="179" cy="386.1" rx="2.3" ry="1.7" fill="#fff" stroke="#555" stroke-width="0.45"/><ellipse cx="179" cy="390.4" rx="2.3" ry="1.7" fill="#fff" stroke="#555" stroke-width="0.45"/><ellipse cx="179" cy="394.6" rx="2.3" ry="1.7" fill="#fff" stroke="#555" stroke-width="0.45"/><ellipse cx="179" cy="398.9" rx="2.3" ry="1.7" fill="#fff" stroke="#555" stroke-width="0.45"/><ellipse cx="173.5" cy="385.2" rx="2.3" ry="1.9" fill="#fff" stroke="#555" stroke-width="0.45"/><ellipse cx="173.5" cy="390.1" rx="2.3" ry="1.9" fill="#fff" stroke="#555" stroke-width="0.45"/><ellipse cx="173.5" cy="394.9" rx="2.3" ry="1.9" fill="#fff" stroke="#555" stroke-width="0.45"/><ellipse cx="173.5" cy="399.8" rx="2.3" ry="1.9" fill="#fff" stroke="#555" stroke-width="0.45"/><polygon points="168.9,381.9 154.5,385 154.5,401.3 168.9,403.1" fill="#fff" stroke="#474747" stroke-width="0.7" stroke-linejoin="round"/><polygon points="168.9,381.9 157,361.9 154.3,363.5 153.5,361.5 151.5,362.5 152.3,364.5 147,371.9 154.5,385" fill="#fff" stroke="#474747" stroke-width="0.7" stroke-linejoin="round"/><polygon points="168.9,403.1 157.6,423.1 154.6,421.5 153.8,423.5 151.8,422.5 152.6,420.5 147,414.4 154.5,401.3" fill="#fff" stroke="#474747" stroke-width="0.7" stroke-linejoin="round"/><path d="M129.5 385 L137 382 L137 390.5 L140.5 390.5 L140.5 394 L143.5 394 L143.5 385.5 L147 382 L154.5 385 L154.5 401.3 L142 408.7 L129.5 401.3 Z" fill="#fff" stroke="#474747" stroke-width="0.7" stroke-linejoin="round" stroke-linecap="round" /><polyline points="132,391.5 136,391.5" fill="none" stroke="#474747" stroke-width="0.6" stroke-linecap="round" stroke-linejoin="round"/><polyline points="148,391.5 152,391.5" fill="none" stroke="#474747" stroke-width="0.6" stroke-linecap="round" stroke-linejoin="round"/><polyline points="142,397.5 142,401.5" fill="none" stroke="#474747" stroke-width="0.6" stroke-linecap="round" stroke-linejoin="round"/><polygon points="96,875.8 100.1,877.3 103.2,877.8 103.2,882.2 100.1,882.7 96,884.2 97,880" fill="#fff" stroke="#474747" stroke-width="0.7" stroke-linejoin="round"/><polygon points="103.2,877.8 145.3,870.5 145.3,889.5 103.2,882.2" fill="#fff" stroke="#474747" stroke-width="0.7" stroke-linejoin="round"/><polyline points="103.2,878.6 145.3,874.3" fill="none" stroke="#555" stroke-width="0.5" stroke-linecap="round" stroke-linejoin="round"/><polyline points="103.2,879.5 145.3,878.1" fill="none" stroke="#555" stroke-width="0.5" stroke-linecap="round" stroke-linejoin="round"/><polyline points="103.2,880.5 145.3,881.9" fill="none" stroke="#555" stroke-width="0.5" stroke-linecap="round" stroke-linejoin="round"/><polyline points="103.2,881.4 145.3,885.7" fill="none" stroke="#555" stroke-width="0.5" stroke-linecap="round" stroke-linejoin="round"/><polyline points="111,876.4 111,883.6" fill="none" stroke="#555" stroke-width="0.5" stroke-linecap="round" stroke-linejoin="round"/><polyline points="118.2,875.1 118.2,884.9" fill="none" stroke="#555" stroke-width="0.5" stroke-linecap="round" stroke-linejoin="round"/><ellipse cx="123.4" cy="875.7" rx="2.4" ry="1.2" fill="#fff" stroke="#555" stroke-width="0.45"/><ellipse cx="123.4" cy="878.6" rx="2.4" ry="1.2" fill="#fff" stroke="#555" stroke-width="0.45"/><ellipse cx="123.4" cy="881.4" rx="2.4" ry="1.2" fill="#fff" stroke="#555" stroke-width="0.45"/><ellipse cx="123.4" cy="884.3" rx="2.4" ry="1.2" fill="#fff" stroke="#555" stroke-width="0.45"/><ellipse cx="129.1" cy="874.9" rx="2.4" ry="1.3" fill="#fff" stroke="#555" stroke-width="0.45"/><ellipse cx="129.1" cy="878.3" rx="2.4" ry="1.3" fill="#fff" stroke="#555" stroke-width="0.45"/><ellipse cx="129.1" cy="881.7" rx="2.4" ry="1.3" fill="#fff" stroke="#555" stroke-width="0.45"/><ellipse cx="129.1" cy="885.1" rx="2.4" ry="1.3" fill="#fff" stroke="#555" stroke-width="0.45"/><ellipse cx="134.8" cy="874.2" rx="2.4" ry="1.5" fill="#fff" stroke="#555" stroke-width="0.45"/><ellipse cx="134.8" cy="878.1" rx="2.4" ry="1.5" fill="#fff" stroke="#555" stroke-width="0.45"/><ellipse cx="134.8" cy="881.9" rx="2.4" ry="1.5" fill="#fff" stroke="#555" stroke-width="0.45"/><ellipse cx="134.8" cy="885.8" rx="2.4" ry="1.5" fill="#fff" stroke="#555" stroke-width="0.45"/><ellipse cx="140.5" cy="873.5" rx="2.4" ry="1.7" fill="#fff" stroke="#555" stroke-width="0.45"/><ellipse cx="140.5" cy="877.8" rx="2.4" ry="1.7" fill="#fff" stroke="#555" stroke-width="0.45"/><ellipse cx="140.5" cy="882.2" rx="2.4" ry="1.7" fill="#fff" stroke="#555" stroke-width="0.45"/><ellipse cx="140.5" cy="886.5" rx="2.4" ry="1.7" fill="#fff" stroke="#555" stroke-width="0.45"/><polygon points="145.3,870.5 160.2,873.2 160.2,887.9 145.3,889.5" fill="#fff" stroke="#474747" stroke-width="0.7" stroke-linejoin="round"/><polygon points="145.3,870.5 157.6,852.5 160.4,853.9 161.3,852.1 163.3,853 162.5,854.8 168,861.5 160.2,873.2" fill="#fff" stroke="#474747" stroke-width="0.7" stroke-linejoin="round"/><polygon points="145.3,889.5 157,907.5 160.1,906.1 161,907.9 163,907 162.2,905.2 168,899.7 160.2,887.9" fill="#fff" stroke="#474747" stroke-width="0.7" stroke-linejoin="round"/><polygon points="250.4,875.8 246.3,877.3 243.2,877.8 243.2,882.2 246.3,882.7 250.4,884.2 249.4,880" fill="#fff" stroke="#474747" stroke-width="0.7" stroke-linejoin="round"/><polygon points="243.2,877.8 201.1,870.5 201.1,889.5 243.2,882.2" fill="#fff" stroke="#474747" stroke-width="0.7" stroke-linejoin="round"/><polyline points="243.2,878.6 201.1,874.3" fill="none" stroke="#555" stroke-width="0.5" stroke-linecap="round" stroke-linejoin="round"/><polyline points="243.2,879.5 201.1,878.1" fill="none" stroke="#555" stroke-width="0.5" stroke-linecap="round" stroke-linejoin="round"/><polyline points="243.2,880.5 201.1,881.9" fill="none" stroke="#555" stroke-width="0.5" stroke-linecap="round" stroke-linejoin="round"/><polyline points="243.2,881.4 201.1,885.7" fill="none" stroke="#555" stroke-width="0.5" stroke-linecap="round" stroke-linejoin="round"/><polyline points="235.4,876.4 235.4,883.6" fill="none" stroke="#555" stroke-width="0.5" stroke-linecap="round" stroke-linejoin="round"/><polyline points="228.2,875.1 228.2,884.9" fill="none" stroke="#555" stroke-width="0.5" stroke-linecap="round" stroke-linejoin="round"/><ellipse cx="223" cy="875.7" rx="2.4" ry="1.2" fill="#fff" stroke="#555" stroke-width="0.45"/><ellipse cx="223" cy="878.6" rx="2.4" ry="1.2" fill="#fff" stroke="#555" stroke-width="0.45"/><ellipse cx="223" cy="881.4" rx="2.4" ry="1.2" fill="#fff" stroke="#555" stroke-width="0.45"/><ellipse cx="223" cy="884.3" rx="2.4" ry="1.2" fill="#fff" stroke="#555" stroke-width="0.45"/><ellipse cx="217.3" cy="874.9" rx="2.4" ry="1.3" fill="#fff" stroke="#555" stroke-width="0.45"/><ellipse cx="217.3" cy="878.3" rx="2.4" ry="1.3" fill="#fff" stroke="#555" stroke-width="0.45"/><ellipse cx="217.3" cy="881.7" rx="2.4" ry="1.3" fill="#fff" stroke="#555" stroke-width="0.45"/><ellipse cx="217.3" cy="885.1" rx="2.4" ry="1.3" fill="#fff" stroke="#555" stroke-width="0.45"/><ellipse cx="211.6" cy="874.2" rx="2.4" ry="1.5" fill="#fff" stroke="#555" stroke-width="0.45"/><ellipse cx="211.6" cy="878.1" rx="2.4" ry="1.5" fill="#fff" stroke="#555" stroke-width="0.45"/><ellipse cx="211.6" cy="881.9" rx="2.4" ry="1.5" fill="#fff" stroke="#555" stroke-width="0.45"/><ellipse cx="211.6" cy="885.8" rx="2.4" ry="1.5" fill="#fff" stroke="#555" stroke-width="0.45"/><ellipse cx="205.9" cy="873.5" rx="2.4" ry="1.7" fill="#fff" stroke="#555" stroke-width="0.45"/><ellipse cx="205.9" cy="877.8" rx="2.4" ry="1.7" fill="#fff" stroke="#555" stroke-width="0.45"/><ellipse cx="205.9" cy="882.2" rx="2.4" ry="1.7" fill="#fff" stroke="#555" stroke-width="0.45"/><ellipse cx="205.9" cy="886.5" rx="2.4" ry="1.7" fill="#fff" stroke="#555" stroke-width="0.45"/><polygon points="201.1,870.5 186.2,873.2 186.2,887.9 201.1,889.5" fill="#fff" stroke="#474747" stroke-width="0.7" stroke-linejoin="round"/><polygon points="201.1,870.5 188.8,852.5 186,853.9 185.1,852.1 183.1,853 183.9,854.8 178.4,861.5 186.2,873.2" fill="#fff" stroke="#474747" stroke-width="0.7" stroke-linejoin="round"/><polygon points="201.1,889.5 189.4,907.5 186.3,906.1 185.4,907.9 183.4,907 184.2,905.2 178.4,899.7 186.2,887.9" fill="#fff" stroke="#474747" stroke-width="0.7" stroke-linejoin="round"/><path d="M160.2 873.2 L168 870.5 L168 878.2 L171.6 878.2 L171.6 881.4 L174.8 881.4 L174.8 873.7 L178.4 870.5 L186.2 873.2 L186.2 887.9 L173.2 894.6 L160.2 887.9 Z" fill="#fff" stroke="#474747" stroke-width="0.7" stroke-linejoin="round" stroke-linecap="round" /><polyline points="162.8,879.1 167,879.1" fill="none" stroke="#474747" stroke-width="0.6" stroke-linecap="round" stroke-linejoin="round"/><polyline points="179.4,879.1 183.6,879.1" fill="none" stroke="#474747" stroke-width="0.6" stroke-linecap="round" stroke-linejoin="round"/><polyline points="173.2,884.5 173.2,888.1" fill="none" stroke="#474747" stroke-width="0.6" stroke-linecap="round" stroke-linejoin="round"/><polygon points="306.2,395.3 311.2,395.3 318.4,444.8 299,444.8" fill="#fff" stroke="#474747" stroke-width="0.7" stroke-linejoin="round"/><polyline points="307.2,395.3 306,409.2" fill="none" stroke="#333" stroke-width="0.6" stroke-linecap="round" stroke-linejoin="round"/><polyline points="308.2,395.3 307.8,409.2" fill="none" stroke="#333" stroke-width="0.6" stroke-linecap="round" stroke-linejoin="round"/><polyline points="309.2,395.3 309.6,409.2" fill="none" stroke="#333" stroke-width="0.6" stroke-linecap="round" stroke-linejoin="round"/><polyline points="310.2,395.3 311.4,409.2" fill="none" stroke="#333" stroke-width="0.6" stroke-linecap="round" stroke-linejoin="round"/><polyline points="304.2,409.2 313.2,409.2" fill="none" stroke="#444" stroke-width="0.7" stroke-linecap="round" stroke-linejoin="round"/><polyline points="303,417.3 314.4,417.3" fill="none" stroke="#444" stroke-width="0.7" stroke-linecap="round" stroke-linejoin="round"/><polyline points="301.8,425.5 315.6,425.5" fill="none" stroke="#444" stroke-width="0.7" stroke-linecap="round" stroke-linejoin="round"/><polyline points="300.6,433.6 316.8,433.6" fill="none" stroke="#444" stroke-width="0.7" stroke-linecap="round" stroke-linejoin="round"/><polyline points="299.4,441.8 318,441.8" fill="none" stroke="#444" stroke-width="0.7" stroke-linecap="round" stroke-linejoin="round"/><rect x="304.3" y="410.1" width="2" height="6.4" rx="0.9" fill="#fff" stroke="#333" stroke-width="0.6"/><rect x="307.7" y="410.1" width="2" height="6.4" rx="0.9" fill="#fff" stroke="#333" stroke-width="0.6"/><rect x="311.1" y="410.1" width="2" height="6.4" rx="0.9" fill="#fff" stroke="#333" stroke-width="0.6"/><rect x="303.1" y="418.2" width="2.8" height="6.4" rx="0.9" fill="#fff" stroke="#333" stroke-width="0.6"/><rect x="307.3" y="418.2" width="2.8" height="6.4" rx="0.9" fill="#fff" stroke="#333" stroke-width="0.6"/><rect x="311.5" y="418.2" width="2.8" height="6.4" rx="0.9" fill="#fff" stroke="#333" stroke-width="0.6"/><rect x="301.9" y="426.4" width="2.3" height="6.4" rx="0.9" fill="#fff" stroke="#333" stroke-width="0.6"/><rect x="305.7" y="426.4" width="2.3" height="6.4" rx="0.9" fill="#fff" stroke="#333" stroke-width="0.6"/><rect x="309.4" y="426.4" width="2.3" height="6.4" rx="0.9" fill="#fff" stroke="#333" stroke-width="0.6"/><rect x="313.1" y="426.4" width="2.3" height="6.4" rx="0.9" fill="#fff" stroke="#333" stroke-width="0.6"/><rect x="300.7" y="434.5" width="2.9" height="6.4" rx="0.9" fill="#fff" stroke="#333" stroke-width="0.6"/><rect x="305.1" y="434.5" width="2.9" height="6.4" rx="0.9" fill="#fff" stroke="#333" stroke-width="0.6"/><rect x="309.4" y="434.5" width="2.9" height="6.4" rx="0.9" fill="#fff" stroke="#333" stroke-width="0.6"/><rect x="313.7" y="434.5" width="2.9" height="6.4" rx="0.9" fill="#fff" stroke="#333" stroke-width="0.6"/><polygon points="304,388.6 313.4,388 312.6,390.6 311.2,395.3 306.2,395.3 304.8,390.6" fill="#fff" stroke="#474747" stroke-width="0.7" stroke-linejoin="round"/><polygon points="334.2,411.7 339.2,411.7 346.9,459.9 326.5,459.9" fill="#fff" stroke="#474747" stroke-width="0.7" stroke-linejoin="round"/><polyline points="335.2,411.7 333.9,425.2" fill="none" stroke="#333" stroke-width="0.6" stroke-linecap="round" stroke-linejoin="round"/><polyline points="336.2,411.7 335.8,425.2" fill="none" stroke="#333" stroke-width="0.6" stroke-linecap="round" stroke-linejoin="round"/><polyline points="337.2,411.7 337.6,425.2" fill="none" stroke="#333" stroke-width="0.6" stroke-linecap="round" stroke-linejoin="round"/><polyline points="338.2,411.7 339.5,425.2" fill="none" stroke="#333" stroke-width="0.6" stroke-linecap="round" stroke-linejoin="round"/><polyline points="332,425.2 341.4,425.2" fill="none" stroke="#444" stroke-width="0.7" stroke-linecap="round" stroke-linejoin="round"/><polyline points="330.8,433.1 342.6,433.1" fill="none" stroke="#444" stroke-width="0.7" stroke-linecap="round" stroke-linejoin="round"/><polyline points="329.5,441 343.9,441" fill="none" stroke="#444" stroke-width="0.7" stroke-linecap="round" stroke-linejoin="round"/><polyline points="328.2,449 345.2,449" fill="none" stroke="#444" stroke-width="0.7" stroke-linecap="round" stroke-linejoin="round"/><polyline points="327,456.9 346.4,456.9" fill="none" stroke="#444" stroke-width="0.7" stroke-linecap="round" stroke-linejoin="round"/><rect x="332.1" y="426.1" width="2.1" height="6.1" rx="0.9" fill="#fff" stroke="#333" stroke-width="0.6"/><rect x="335.6" y="426.1" width="2.1" height="6.1" rx="0.9" fill="#fff" stroke="#333" stroke-width="0.6"/><rect x="339.2" y="426.1" width="2.1" height="6.1" rx="0.9" fill="#fff" stroke="#333" stroke-width="0.6"/><rect x="330.8" y="434" width="3" height="6.1" rx="0.9" fill="#fff" stroke="#333" stroke-width="0.6"/><rect x="335.2" y="434" width="3" height="6.1" rx="0.9" fill="#fff" stroke="#333" stroke-width="0.6"/><rect x="339.6" y="434" width="3" height="6.1" rx="0.9" fill="#fff" stroke="#333" stroke-width="0.6"/><rect x="329.6" y="441.9" width="2.5" height="6.1" rx="0.9" fill="#fff" stroke="#333" stroke-width="0.6"/><rect x="333.5" y="441.9" width="2.5" height="6.1" rx="0.9" fill="#fff" stroke="#333" stroke-width="0.6"/><rect x="337.4" y="441.9" width="2.5" height="6.1" rx="0.9" fill="#fff" stroke="#333" stroke-width="0.6"/><rect x="341.3" y="441.9" width="2.5" height="6.1" rx="0.9" fill="#fff" stroke="#333" stroke-width="0.6"/><rect x="328.3" y="449.9" width="3.1" height="6.1" rx="0.9" fill="#fff" stroke="#333" stroke-width="0.6"/><rect x="332.9" y="449.9" width="3.1" height="6.1" rx="0.9" fill="#fff" stroke="#333" stroke-width="0.6"/><rect x="337.4" y="449.9" width="3.1" height="6.1" rx="0.9" fill="#fff" stroke="#333" stroke-width="0.6"/><rect x="341.9" y="449.9" width="3.1" height="6.1" rx="0.9" fill="#fff" stroke="#333" stroke-width="0.6"/><polygon points="331.7,405.1 341.7,404.5 340.9,407.1 339.2,411.7 334.2,411.7 332.5,407.1" fill="#fff" stroke="#474747" stroke-width="0.7" stroke-linejoin="round"/><polygon points="298.3,449 320.2,444.3 327,444.3 347.4,459.4 346.9,461 322.9,457.9 304,462.6" fill="#fff" stroke="#474747" stroke-width="0.7" stroke-linejoin="round"/><polygon points="298.3,449 320.2,444.3 322.9,457.9 304,462.6" fill="#ebebeb" stroke="#474747" stroke-width="0.7" stroke-linejoin="round"/><polygon points="288.4,460.5 298.3,449 304,462.6 295.7,468.8" fill="#ececec" stroke="#474747" stroke-width="0.7" stroke-linejoin="round"/><polygon points="304,462.6 322.9,457.9 346.9,461 342.7,472 321.8,475.6 308.2,474 305.1,465.7" fill="#f4f4f4" stroke="#474747" stroke-width="0.7" stroke-linejoin="round"/><polygon points="346.9,461 361.5,455.3 361.5,459.4 341.7,472" fill="#fff" stroke="#474747" stroke-width="0.7" stroke-linejoin="round"/><polyline points="322.9,457.9 321.8,475.6" fill="none" stroke="#474747" stroke-width="0.6" stroke-linecap="round" stroke-linejoin="round"/><polygon points="294.2,834.7 298.6,834.7 304.9,878.3 287.9,878.3" fill="#fff" stroke="#474747" stroke-width="0.7" stroke-linejoin="round"/><polyline points="295.1,834.7 294,846.9" fill="none" stroke="#333" stroke-width="0.6" stroke-linecap="round" stroke-linejoin="round"/><polyline points="296,834.7 295.6,846.9" fill="none" stroke="#333" stroke-width="0.6" stroke-linecap="round" stroke-linejoin="round"/><polyline points="296.8,834.7 297.2,846.9" fill="none" stroke="#333" stroke-width="0.6" stroke-linecap="round" stroke-linejoin="round"/><polyline points="297.7,834.7 298.8,846.9" fill="none" stroke="#333" stroke-width="0.6" stroke-linecap="round" stroke-linejoin="round"/><polyline points="292.4,846.9 300.4,846.9" fill="none" stroke="#444" stroke-width="0.7" stroke-linecap="round" stroke-linejoin="round"/><polyline points="291.4,854 301.4,854" fill="none" stroke="#444" stroke-width="0.7" stroke-linecap="round" stroke-linejoin="round"/><polyline points="290.4,861.1 302.4,861.1" fill="none" stroke="#444" stroke-width="0.7" stroke-linecap="round" stroke-linejoin="round"/><polyline points="289.3,868.2 303.5,868.2" fill="none" stroke="#444" stroke-width="0.7" stroke-linecap="round" stroke-linejoin="round"/><polyline points="288.3,875.3 304.5,875.3" fill="none" stroke="#444" stroke-width="0.7" stroke-linecap="round" stroke-linejoin="round"/><rect x="292.6" y="847.8" width="1.6" height="5.3" rx="0.9" fill="#fff" stroke="#333" stroke-width="0.6"/><rect x="295.6" y="847.8" width="1.6" height="5.3" rx="0.9" fill="#fff" stroke="#333" stroke-width="0.6"/><rect x="298.6" y="847.8" width="1.6" height="5.3" rx="0.9" fill="#fff" stroke="#333" stroke-width="0.6"/><rect x="291.6" y="854.9" width="2.3" height="5.3" rx="0.9" fill="#fff" stroke="#333" stroke-width="0.6"/><rect x="295.3" y="854.9" width="2.3" height="5.3" rx="0.9" fill="#fff" stroke="#333" stroke-width="0.6"/><rect x="298.9" y="854.9" width="2.3" height="5.3" rx="0.9" fill="#fff" stroke="#333" stroke-width="0.6"/><rect x="290.5" y="862" width="3" height="5.3" rx="0.9" fill="#fff" stroke="#333" stroke-width="0.6"/><rect x="294.9" y="862" width="3" height="5.3" rx="0.9" fill="#fff" stroke="#333" stroke-width="0.6"/><rect x="299.3" y="862" width="3" height="5.3" rx="0.9" fill="#fff" stroke="#333" stroke-width="0.6"/><rect x="289.5" y="869.1" width="2.4" height="5.3" rx="0.9" fill="#fff" stroke="#333" stroke-width="0.6"/><rect x="293.3" y="869.1" width="2.4" height="5.3" rx="0.9" fill="#fff" stroke="#333" stroke-width="0.6"/><rect x="297.1" y="869.1" width="2.4" height="5.3" rx="0.9" fill="#fff" stroke="#333" stroke-width="0.6"/><rect x="300.9" y="869.1" width="2.4" height="5.3" rx="0.9" fill="#fff" stroke="#333" stroke-width="0.6"/><polygon points="292.3,828.8 300.5,828.2 299.7,830.8 298.6,834.7 294.2,834.7 293.1,830.8" fill="#fff" stroke="#474747" stroke-width="0.7" stroke-linejoin="round"/><polygon points="318.8,849.1 323.2,849.1 330,891.5 312.1,891.5" fill="#fff" stroke="#474747" stroke-width="0.7" stroke-linejoin="round"/><polyline points="319.7,849.1 318.6,861" fill="none" stroke="#333" stroke-width="0.6" stroke-linecap="round" stroke-linejoin="round"/><polyline points="320.6,849.1 320.2,861" fill="none" stroke="#333" stroke-width="0.6" stroke-linecap="round" stroke-linejoin="round"/><polyline points="321.5,849.1 321.9,861" fill="none" stroke="#333" stroke-width="0.6" stroke-linecap="round" stroke-linejoin="round"/><polyline points="322.4,849.1 323.5,861" fill="none" stroke="#333" stroke-width="0.6" stroke-linecap="round" stroke-linejoin="round"/><polyline points="316.9,861 325.1,861" fill="none" stroke="#444" stroke-width="0.7" stroke-linecap="round" stroke-linejoin="round"/><polyline points="315.8,867.9 326.2,867.9" fill="none" stroke="#444" stroke-width="0.7" stroke-linecap="round" stroke-linejoin="round"/><polyline points="314.7,874.8 327.3,874.8" fill="none" stroke="#444" stroke-width="0.7" stroke-linecap="round" stroke-linejoin="round"/><polyline points="313.6,881.7 328.4,881.7" fill="none" stroke="#444" stroke-width="0.7" stroke-linecap="round" stroke-linejoin="round"/><polyline points="312.5,888.5 329.5,888.5" fill="none" stroke="#444" stroke-width="0.7" stroke-linecap="round" stroke-linejoin="round"/><rect x="317.1" y="861.9" width="1.7" height="5.1" rx="0.9" fill="#fff" stroke="#333" stroke-width="0.6"/><rect x="320.2" y="861.9" width="1.7" height="5.1" rx="0.9" fill="#fff" stroke="#333" stroke-width="0.6"/><rect x="323.3" y="861.9" width="1.7" height="5.1" rx="0.9" fill="#fff" stroke="#333" stroke-width="0.6"/><rect x="316" y="868.8" width="2.4" height="5.1" rx="0.9" fill="#fff" stroke="#333" stroke-width="0.6"/><rect x="319.8" y="868.8" width="2.4" height="5.1" rx="0.9" fill="#fff" stroke="#333" stroke-width="0.6"/><rect x="323.7" y="868.8" width="2.4" height="5.1" rx="0.9" fill="#fff" stroke="#333" stroke-width="0.6"/><rect x="314.9" y="875.7" width="3.2" height="5.1" rx="0.9" fill="#fff" stroke="#333" stroke-width="0.6"/><rect x="319.5" y="875.7" width="3.2" height="5.1" rx="0.9" fill="#fff" stroke="#333" stroke-width="0.6"/><rect x="324" y="875.7" width="3.2" height="5.1" rx="0.9" fill="#fff" stroke="#333" stroke-width="0.6"/><rect x="313.8" y="882.6" width="2.6" height="5.1" rx="0.9" fill="#fff" stroke="#333" stroke-width="0.6"/><rect x="317.8" y="882.6" width="2.6" height="5.1" rx="0.9" fill="#fff" stroke="#333" stroke-width="0.6"/><rect x="321.7" y="882.6" width="2.6" height="5.1" rx="0.9" fill="#fff" stroke="#333" stroke-width="0.6"/><rect x="325.7" y="882.6" width="2.6" height="5.1" rx="0.9" fill="#fff" stroke="#333" stroke-width="0.6"/><polygon points="316.6,843.3 325.4,842.7 324.6,845.3 323.2,849.1 318.8,849.1 317.4,845.3" fill="#fff" stroke="#474747" stroke-width="0.7" stroke-linejoin="round"/><polygon points="287.2,882 306.5,877.8 312.5,877.8 330.5,891.1 330,892.5 308.9,889.8 292.3,893.9" fill="#fff" stroke="#474747" stroke-width="0.7" stroke-linejoin="round"/><polygon points="287.2,882 306.5,877.8 308.9,889.8 292.3,893.9" fill="#ebebeb" stroke="#474747" stroke-width="0.7" stroke-linejoin="round"/><polygon points="278.5,892.1 287.2,882 292.3,893.9 285,899.4" fill="#ececec" stroke="#474747" stroke-width="0.7" stroke-linejoin="round"/><polygon points="292.3,893.9 308.9,889.8 330,892.5 326.3,902.2 307.9,905.4 296,904 293.2,896.6" fill="#f4f4f4" stroke="#474747" stroke-width="0.7" stroke-linejoin="round"/><polygon points="330,892.5 342.9,887.5 342.9,891.1 325.4,902.2" fill="#fff" stroke="#474747" stroke-width="0.7" stroke-linejoin="round"/><polyline points="308.9,889.8 307.9,905.4" fill="none" stroke="#474747" stroke-width="0.6" stroke-linecap="round" stroke-linejoin="round"/><polygon points="473.5,385.3 479.5,385.3 486.5,437.7 466.5,437.7" fill="#fff" stroke="#474747" stroke-width="0.7" stroke-linejoin="round"/><polyline points="474.7,385.3 473.5,400" fill="none" stroke="#333" stroke-width="0.6" stroke-linecap="round" stroke-linejoin="round"/><polyline points="475.9,385.3 475.5,400" fill="none" stroke="#333" stroke-width="0.6" stroke-linecap="round" stroke-linejoin="round"/><polyline points="477.1,385.3 477.5,400" fill="none" stroke="#333" stroke-width="0.6" stroke-linecap="round" stroke-linejoin="round"/><polyline points="478.3,385.3 479.5,400" fill="none" stroke="#333" stroke-width="0.6" stroke-linecap="round" stroke-linejoin="round"/><polyline points="471.5,400 481.5,400" fill="none" stroke="#444" stroke-width="0.7" stroke-linecap="round" stroke-linejoin="round"/><polyline points="470.4,408.7 482.6,408.7" fill="none" stroke="#444" stroke-width="0.7" stroke-linecap="round" stroke-linejoin="round"/><polyline points="469.2,417.4 483.8,417.4" fill="none" stroke="#444" stroke-width="0.7" stroke-linecap="round" stroke-linejoin="round"/><polyline points="468.1,426 484.9,426" fill="none" stroke="#444" stroke-width="0.7" stroke-linecap="round" stroke-linejoin="round"/><polyline points="466.9,434.7 486.1,434.7" fill="none" stroke="#444" stroke-width="0.7" stroke-linecap="round" stroke-linejoin="round"/><rect x="471.7" y="400.9" width="2.3" height="6.9" rx="0.9" fill="#fff" stroke="#333" stroke-width="0.6"/><rect x="475.4" y="400.9" width="2.3" height="6.9" rx="0.9" fill="#fff" stroke="#333" stroke-width="0.6"/><rect x="479" y="400.9" width="2.3" height="6.9" rx="0.9" fill="#fff" stroke="#333" stroke-width="0.6"/><rect x="470.5" y="409.6" width="3.1" height="6.9" rx="0.9" fill="#fff" stroke="#333" stroke-width="0.6"/><rect x="475" y="409.6" width="3.1" height="6.9" rx="0.9" fill="#fff" stroke="#333" stroke-width="0.6"/><rect x="479.4" y="409.6" width="3.1" height="6.9" rx="0.9" fill="#fff" stroke="#333" stroke-width="0.6"/><rect x="469.3" y="418.3" width="2.5" height="6.9" rx="0.9" fill="#fff" stroke="#333" stroke-width="0.6"/><rect x="473.3" y="418.3" width="2.5" height="6.9" rx="0.9" fill="#fff" stroke="#333" stroke-width="0.6"/><rect x="477.2" y="418.3" width="2.5" height="6.9" rx="0.9" fill="#fff" stroke="#333" stroke-width="0.6"/><rect x="481.1" y="418.3" width="2.5" height="6.9" rx="0.9" fill="#fff" stroke="#333" stroke-width="0.6"/><rect x="468.2" y="426.9" width="3.1" height="6.9" rx="0.9" fill="#fff" stroke="#333" stroke-width="0.6"/><rect x="472.7" y="426.9" width="3.1" height="6.9" rx="0.9" fill="#fff" stroke="#333" stroke-width="0.6"/><rect x="477.2" y="426.9" width="3.1" height="6.9" rx="0.9" fill="#fff" stroke="#333" stroke-width="0.6"/><rect x="481.7" y="426.9" width="3.1" height="6.9" rx="0.9" fill="#fff" stroke="#333" stroke-width="0.6"/><polygon points="472,378.2 481,377.6 480.2,380.2 479.5,385.3 473.5,385.3 472.8,380.2" fill="#fff" stroke="#474747" stroke-width="0.7" stroke-linejoin="round"/><polygon points="500,396.1 506,396.1 514.3,448 491.7,448" fill="#fff" stroke="#474747" stroke-width="0.7" stroke-linejoin="round"/><polyline points="501.2,396.1 499.8,410.6" fill="none" stroke="#333" stroke-width="0.6" stroke-linecap="round" stroke-linejoin="round"/><polyline points="502.4,396.1 501.9,410.6" fill="none" stroke="#333" stroke-width="0.6" stroke-linecap="round" stroke-linejoin="round"/><polyline points="503.6,396.1 504.1,410.6" fill="none" stroke="#333" stroke-width="0.6" stroke-linecap="round" stroke-linejoin="round"/><polyline points="504.8,396.1 506.2,410.6" fill="none" stroke="#333" stroke-width="0.6" stroke-linecap="round" stroke-linejoin="round"/><polyline points="497.7,410.6 508.3,410.6" fill="none" stroke="#444" stroke-width="0.7" stroke-linecap="round" stroke-linejoin="round"/><polyline points="496.3,419.2 509.7,419.2" fill="none" stroke="#444" stroke-width="0.7" stroke-linecap="round" stroke-linejoin="round"/><polyline points="494.9,427.8 511.1,427.8" fill="none" stroke="#444" stroke-width="0.7" stroke-linecap="round" stroke-linejoin="round"/><polyline points="493.6,436.4 512.4,436.4" fill="none" stroke="#444" stroke-width="0.7" stroke-linecap="round" stroke-linejoin="round"/><polyline points="492.2,445 513.8,445" fill="none" stroke="#444" stroke-width="0.7" stroke-linecap="round" stroke-linejoin="round"/><rect x="497.7" y="411.5" width="2.6" height="6.8" rx="0.9" fill="#fff" stroke="#333" stroke-width="0.6"/><rect x="501.7" y="411.5" width="2.6" height="6.8" rx="0.9" fill="#fff" stroke="#333" stroke-width="0.6"/><rect x="505.7" y="411.5" width="2.6" height="6.8" rx="0.9" fill="#fff" stroke="#333" stroke-width="0.6"/><rect x="496.3" y="420.1" width="2.3" height="6.8" rx="0.9" fill="#fff" stroke="#333" stroke-width="0.6"/><rect x="500" y="420.1" width="2.3" height="6.8" rx="0.9" fill="#fff" stroke="#333" stroke-width="0.6"/><rect x="503.7" y="420.1" width="2.3" height="6.8" rx="0.9" fill="#fff" stroke="#333" stroke-width="0.6"/><rect x="507.4" y="420.1" width="2.3" height="6.8" rx="0.9" fill="#fff" stroke="#333" stroke-width="0.6"/><rect x="494.9" y="428.7" width="3" height="6.8" rx="0.9" fill="#fff" stroke="#333" stroke-width="0.6"/><rect x="499.3" y="428.7" width="3" height="6.8" rx="0.9" fill="#fff" stroke="#333" stroke-width="0.6"/><rect x="503.7" y="428.7" width="3" height="6.8" rx="0.9" fill="#fff" stroke="#333" stroke-width="0.6"/><rect x="508.1" y="428.7" width="3" height="6.8" rx="0.9" fill="#fff" stroke="#333" stroke-width="0.6"/><rect x="493.6" y="437.3" width="3.7" height="6.8" rx="0.9" fill="#fff" stroke="#333" stroke-width="0.6"/><rect x="498.6" y="437.3" width="3.7" height="6.8" rx="0.9" fill="#fff" stroke="#333" stroke-width="0.6"/><rect x="503.7" y="437.3" width="3.7" height="6.8" rx="0.9" fill="#fff" stroke="#333" stroke-width="0.6"/><rect x="508.8" y="437.3" width="3.7" height="6.8" rx="0.9" fill="#fff" stroke="#333" stroke-width="0.6"/><polygon points="497,389 509,388.4 508.2,391 506,396.1 500,396.1 497.8,391" fill="#fff" stroke="#474747" stroke-width="0.7" stroke-linejoin="round"/><polygon points="465.2,438.3 487.8,434 514.7,449 529.2,445.2 527.9,451.5 507.8,461.5 489,465.9 474,462.8 464.6,447.1" fill="#fff" stroke="#474747" stroke-width="0.7" stroke-linejoin="round"/><polygon points="465.2,438.3 487.8,434 489.7,452.8 464.6,447.1" fill="#e9e9e9" stroke="#474747" stroke-width="0.7" stroke-linejoin="round"/><polyline points="464.6,447.1 489.7,452.8 514.1,450.3" fill="none" stroke="#474747" stroke-width="0.7" stroke-linecap="round" stroke-linejoin="round"/><polyline points="489.7,452.8 489,465.9" fill="none" stroke="#474747" stroke-width="0.7" stroke-linecap="round" stroke-linejoin="round"/><polyline points="514.1,450.3 507.8,461.5" fill="none" stroke="#474747" stroke-width="0.6" stroke-linecap="round" stroke-linejoin="round"/><polygon points="492.5,455.2 505.5,453.2 504.5,458.2 492.5,460.2" fill="#eee" stroke="#474747" stroke-width="0.5" stroke-linejoin="round"/><polygon points="463.8,829.4 469,829.4 475.1,875.3 457.6,875.3" fill="#fff" stroke="#474747" stroke-width="0.7" stroke-linejoin="round"/><polyline points="464.8,829.4 463.8,842.3" fill="none" stroke="#333" stroke-width="0.6" stroke-linecap="round" stroke-linejoin="round"/><polyline points="465.9,829.4 465.5,842.3" fill="none" stroke="#333" stroke-width="0.6" stroke-linecap="round" stroke-linejoin="round"/><polyline points="466.9,829.4 467.3,842.3" fill="none" stroke="#333" stroke-width="0.6" stroke-linecap="round" stroke-linejoin="round"/><polyline points="468,829.4 469,842.3" fill="none" stroke="#333" stroke-width="0.6" stroke-linecap="round" stroke-linejoin="round"/><polyline points="462.1,842.3 470.7,842.3" fill="none" stroke="#444" stroke-width="0.7" stroke-linecap="round" stroke-linejoin="round"/><polyline points="461.1,849.8 471.7,849.8" fill="none" stroke="#444" stroke-width="0.7" stroke-linecap="round" stroke-linejoin="round"/><polyline points="460.1,857.3 472.7,857.3" fill="none" stroke="#444" stroke-width="0.7" stroke-linecap="round" stroke-linejoin="round"/><polyline points="459.1,864.8 473.7,864.8" fill="none" stroke="#444" stroke-width="0.7" stroke-linecap="round" stroke-linejoin="round"/><polyline points="458.1,872.3 474.7,872.3" fill="none" stroke="#444" stroke-width="0.7" stroke-linecap="round" stroke-linejoin="round"/><rect x="462.3" y="843.2" width="1.8" height="5.7" rx="0.9" fill="#fff" stroke="#333" stroke-width="0.6"/><rect x="465.5" y="843.2" width="1.8" height="5.7" rx="0.9" fill="#fff" stroke="#333" stroke-width="0.6"/><rect x="468.7" y="843.2" width="1.8" height="5.7" rx="0.9" fill="#fff" stroke="#333" stroke-width="0.6"/><rect x="461.3" y="850.7" width="2.5" height="5.7" rx="0.9" fill="#fff" stroke="#333" stroke-width="0.6"/><rect x="465.2" y="850.7" width="2.5" height="5.7" rx="0.9" fill="#fff" stroke="#333" stroke-width="0.6"/><rect x="469" y="850.7" width="2.5" height="5.7" rx="0.9" fill="#fff" stroke="#333" stroke-width="0.6"/><rect x="460.3" y="858.2" width="3.2" height="5.7" rx="0.9" fill="#fff" stroke="#333" stroke-width="0.6"/><rect x="464.8" y="858.2" width="3.2" height="5.7" rx="0.9" fill="#fff" stroke="#333" stroke-width="0.6"/><rect x="469.4" y="858.2" width="3.2" height="5.7" rx="0.9" fill="#fff" stroke="#333" stroke-width="0.6"/><rect x="459.3" y="865.7" width="2.5" height="5.7" rx="0.9" fill="#fff" stroke="#333" stroke-width="0.6"/><rect x="463.2" y="865.7" width="2.5" height="5.7" rx="0.9" fill="#fff" stroke="#333" stroke-width="0.6"/><rect x="467.1" y="865.7" width="2.5" height="5.7" rx="0.9" fill="#fff" stroke="#333" stroke-width="0.6"/><rect x="471" y="865.7" width="2.5" height="5.7" rx="0.9" fill="#fff" stroke="#333" stroke-width="0.6"/><polygon points="462.5,823.2 470.3,822.6 469.5,825.2 469,829.4 463.8,829.4 463.3,825.2" fill="#fff" stroke="#474747" stroke-width="0.7" stroke-linejoin="round"/><polygon points="487,838.8 492.2,838.8 499.5,884.3 479.7,884.3" fill="#fff" stroke="#474747" stroke-width="0.7" stroke-linejoin="round"/><polyline points="488,838.8 486.8,851.6" fill="none" stroke="#333" stroke-width="0.6" stroke-linecap="round" stroke-linejoin="round"/><polyline points="489.1,838.8 488.7,851.6" fill="none" stroke="#333" stroke-width="0.6" stroke-linecap="round" stroke-linejoin="round"/><polyline points="490.1,838.8 490.5,851.6" fill="none" stroke="#333" stroke-width="0.6" stroke-linecap="round" stroke-linejoin="round"/><polyline points="491.2,838.8 492.4,851.6" fill="none" stroke="#333" stroke-width="0.6" stroke-linecap="round" stroke-linejoin="round"/><polyline points="484.9,851.6 494.2,851.6" fill="none" stroke="#444" stroke-width="0.7" stroke-linecap="round" stroke-linejoin="round"/><polyline points="483.7,859 495.4,859" fill="none" stroke="#444" stroke-width="0.7" stroke-linecap="round" stroke-linejoin="round"/><polyline points="482.6,866.4 496.6,866.4" fill="none" stroke="#444" stroke-width="0.7" stroke-linecap="round" stroke-linejoin="round"/><polyline points="481.4,873.8 497.8,873.8" fill="none" stroke="#444" stroke-width="0.7" stroke-linecap="round" stroke-linejoin="round"/><polyline points="480.2,881.3 499,881.3" fill="none" stroke="#444" stroke-width="0.7" stroke-linecap="round" stroke-linejoin="round"/><rect x="485" y="852.5" width="2.1" height="5.6" rx="0.9" fill="#fff" stroke="#333" stroke-width="0.6"/><rect x="488.5" y="852.5" width="2.1" height="5.6" rx="0.9" fill="#fff" stroke="#333" stroke-width="0.6"/><rect x="492" y="852.5" width="2.1" height="5.6" rx="0.9" fill="#fff" stroke="#333" stroke-width="0.6"/><rect x="483.8" y="859.9" width="2.9" height="5.6" rx="0.9" fill="#fff" stroke="#333" stroke-width="0.6"/><rect x="488.1" y="859.9" width="2.9" height="5.6" rx="0.9" fill="#fff" stroke="#333" stroke-width="0.6"/><rect x="492.4" y="859.9" width="2.9" height="5.6" rx="0.9" fill="#fff" stroke="#333" stroke-width="0.6"/><rect x="482.7" y="867.3" width="2.4" height="5.6" rx="0.9" fill="#fff" stroke="#333" stroke-width="0.6"/><rect x="486.5" y="867.3" width="2.4" height="5.6" rx="0.9" fill="#fff" stroke="#333" stroke-width="0.6"/><rect x="490.3" y="867.3" width="2.4" height="5.6" rx="0.9" fill="#fff" stroke="#333" stroke-width="0.6"/><rect x="494.1" y="867.3" width="2.4" height="5.6" rx="0.9" fill="#fff" stroke="#333" stroke-width="0.6"/><rect x="481.5" y="874.7" width="3" height="5.6" rx="0.9" fill="#fff" stroke="#333" stroke-width="0.6"/><rect x="485.9" y="874.7" width="3" height="5.6" rx="0.9" fill="#fff" stroke="#333" stroke-width="0.6"/><rect x="490.3" y="874.7" width="3" height="5.6" rx="0.9" fill="#fff" stroke="#333" stroke-width="0.6"/><rect x="494.7" y="874.7" width="3" height="5.6" rx="0.9" fill="#fff" stroke="#333" stroke-width="0.6"/><polygon points="484.3,832.7 494.8,832.1 494,834.7 492.2,838.8 487,838.8 485.1,834.7" fill="#fff" stroke="#474747" stroke-width="0.7" stroke-linejoin="round"/><polygon points="456.5,875.8 476.3,872 499.8,885.2 512.5,881.8 511.4,887.3 493.8,896.1 477.3,899.9 464.2,897.2 456,883.5" fill="#fff" stroke="#474747" stroke-width="0.7" stroke-linejoin="round"/><polygon points="456.5,875.8 476.3,872 477.9,888.5 456,883.5" fill="#e9e9e9" stroke="#474747" stroke-width="0.7" stroke-linejoin="round"/><polyline points="456,883.5 477.9,888.5 499.3,886.3" fill="none" stroke="#474747" stroke-width="0.7" stroke-linecap="round" stroke-linejoin="round"/><polyline points="477.9,888.5 477.3,899.9" fill="none" stroke="#474747" stroke-width="0.7" stroke-linecap="round" stroke-linejoin="round"/><polyline points="499.3,886.3 493.8,896.1" fill="none" stroke="#474747" stroke-width="0.6" stroke-linecap="round" stroke-linejoin="round"/><polygon points="480.4,890.6 491.8,888.8 490.9,893.2 480.4,895" fill="#eee" stroke="#474747" stroke-width="0.5" stroke-linejoin="round"/><polyline points="300,467 295.9,465.3" fill="none" stroke="#d81e2c" stroke-width="0.8" stroke-linecap="round" stroke-linejoin="round"/><polygon points="293,464 296.6,463.6 295.2,466.9" fill="#d81e2c"/><polyline points="305,472 303.9,471.4" fill="none" stroke="#d81e2c" stroke-width="0.8" stroke-linecap="round" stroke-linejoin="round"/><polygon points="301,470 304.6,469.9 303.1,473" fill="#d81e2c"/><polyline points="288,896 284.9,894.4" fill="none" stroke="#d81e2c" stroke-width="0.8" stroke-linecap="round" stroke-linejoin="round"/><polygon points="282,893 285.6,892.9 284.1,896" fill="#d81e2c"/><polyline points="293,899 291.9,898.4" fill="none" stroke="#d81e2c" stroke-width="0.8" stroke-linecap="round" stroke-linejoin="round"/><polygon points="289,897 292.6,896.9 291.1,900" fill="#d81e2c"/><text x="0" y="0" font-size="7.5" fill="#d2d2d2" textLength="59.8" lengthAdjust="spacingAndGlyphs" transform="translate(119.8 412.7) rotate(-46)">FASCINATIONS</text><text x="0" y="0" font-size="7.5" fill="#d2d2d2" textLength="58.6" lengthAdjust="spacingAndGlyphs" transform="translate(154.4 896.6) rotate(-46.1)">FASCINATIONS</text><text x="0" y="0" font-size="7.5" fill="#d2d2d2" textLength="58.1" lengthAdjust="spacingAndGlyphs" transform="translate(739.2 471) rotate(-45.8)">FASCINATIONS</text><text x="0" y="0" font-size="7.5" fill="#d2d2d2" textLength="21.4" lengthAdjust="spacingAndGlyphs" transform="translate(474 466.6) rotate(-49.7)">FASC</text><text x="0" y="0" font-size="7.5" fill="#d2d2d2" textLength="32.9" lengthAdjust="spacingAndGlyphs" transform="translate(456.3 900.3) rotate(-49.7)">FASCI</text><path d="M691.8 400.5 L739.2 410.8 L743.6 418.4 L777.5 423.9 L783 432 L821.3 432 L825.6 422.4 L853 422.4 C865 424 878 425 886 420 L889 414 L891 416 L894 411 L896 414 L898 412 L897 416 L900 419.5 L895 421 C888 425 882 432 876 438 C870 443 862 446 854 446.9 L719.5 447.3 L696.6 420.6 L694 415 L693.3 411.9 Z" fill="#fff" stroke="#474747" stroke-width="0.8" stroke-linejoin="round" stroke-linecap="round" /><polyline points="853,422.4 854,446.9" fill="none" stroke="#474747" stroke-width="0.7" stroke-linecap="round" stroke-linejoin="round"/><line x1="697.7" y1="420.6" x2="720.6" y2="420.6" stroke="#474747" stroke-width="2.1" stroke-linecap="round"/><line x1="697.7" y1="420.6" x2="720.6" y2="420.6" stroke="#fff" stroke-width="1" stroke-linecap="round"/><polyline points="715,424 717,424" fill="none" stroke="#474747" stroke-width="0.6" stroke-linecap="round" stroke-linejoin="round"/><polyline points="724,424 726,424" fill="none" stroke="#474747" stroke-width="0.6" stroke-linecap="round" stroke-linejoin="round"/><polyline points="731,425 733,425" fill="none" stroke="#474747" stroke-width="0.6" stroke-linecap="round" stroke-linejoin="round"/><polyline points="737,429 739,429" fill="none" stroke="#474747" stroke-width="0.6" stroke-linecap="round" stroke-linejoin="round"/><polyline points="746,444 748,444" fill="none" stroke="#474747" stroke-width="0.6" stroke-linecap="round" stroke-linejoin="round"/><polyline points="756,444 758,444" fill="none" stroke="#474747" stroke-width="0.6" stroke-linecap="round" stroke-linejoin="round"/><polyline points="811,434 813,434" fill="none" stroke="#474747" stroke-width="0.6" stroke-linecap="round" stroke-linejoin="round"/><polyline points="820,434 822,434" fill="none" stroke="#474747" stroke-width="0.6" stroke-linecap="round" stroke-linejoin="round"/><polyline points="846,434 848,434" fill="none" stroke="#474747" stroke-width="0.6" stroke-linecap="round" stroke-linejoin="round"/><polyline points="859,434 861,434" fill="none" stroke="#474747" stroke-width="0.6" stroke-linecap="round" stroke-linejoin="round"/><polyline points="778,446 780,446" fill="none" stroke="#474747" stroke-width="0.6" stroke-linecap="round" stroke-linejoin="round"/><polyline points="789,446 791,446" fill="none" stroke="#474747" stroke-width="0.6" stroke-linecap="round" stroke-linejoin="round"/><path d="M721.7 451.7 L737 448 L854 447.3 C862 446 870 442 877 437.7 C875 445 872 450 868.3 455.6 C860 464 848 470 836.6 471 L731.6 472.7 C728 468 726 464 725 460 Z" fill="#fff" stroke="#474747" stroke-width="0.8" stroke-linejoin="round" stroke-linecap="round" /><path d="M713.9 586.6 C705 580 695 572 684 567 L679 566 C676 564 672 566 668 565 L664 563 L661 566 L660 561 L662 558 L660 555 L664 555 L666 552 L668 555 L672 553 L670 557 C680 561 700 560 712.5 557.9 L744.8 556.5 L749 565.5 L794 564.6 L799.1 555 L839 544.4 L841.9 535.9 L893.9 521.9 L892.5 544.4 L889.7 550 L881.2 557 L867.2 576.7 L847.5 578.1 Z" fill="#fff" stroke="#474747" stroke-width="0.8" stroke-linejoin="round" stroke-linecap="round" /><polyline points="712.5,557.9 713.9,586.6" fill="none" stroke="#474747" stroke-width="0.7" stroke-linecap="round" stroke-linejoin="round"/><polygon points="893.9,521.9 897,519 900,522 906,521 909.3,522.4 912,526 910,530 911,536 910.7,544.4 892.5,544.4" fill="#fff" stroke="#474747" stroke-width="0.8" stroke-linejoin="round"/><line x1="863" y1="546" x2="886" y2="542" stroke="#474747" stroke-width="2.1" stroke-linecap="round"/><line x1="863" y1="546" x2="886" y2="542" stroke="#fff" stroke-width="1" stroke-linecap="round"/><path d="M688.6 577.6 C692 588 700 600 729.4 611.9 C760 611 820 608 854.5 606.2 L862 612 L864.3 614.7 L866 611 L884 597.8 L896.7 573.9 L881.2 562.6 L863 583.7 L847.5 578.1 L713.9 586.6 Z" fill="#fff" stroke="#474747" stroke-width="0.8" stroke-linejoin="round" stroke-linecap="round" /><polyline points="863,583.7 884,597.8" fill="none" stroke="#474747" stroke-width="0.7" stroke-linecap="round" stroke-linejoin="round"/><polyline points="863,583.7 854.5,606.2" fill="none" stroke="#474747" stroke-width="0.7" stroke-linecap="round" stroke-linejoin="round"/><polyline points="719,566 721,566" fill="none" stroke="#474747" stroke-width="0.6" stroke-linecap="round" stroke-linejoin="round"/><polyline points="759,564 761,564" fill="none" stroke="#474747" stroke-width="0.6" stroke-linecap="round" stroke-linejoin="round"/><polyline points="732,575 734,575" fill="none" stroke="#474747" stroke-width="0.6" stroke-linecap="round" stroke-linejoin="round"/><polyline points="741,574 743,574" fill="none" stroke="#474747" stroke-width="0.6" stroke-linecap="round" stroke-linejoin="round"/><polyline points="786,572 788,572" fill="none" stroke="#474747" stroke-width="0.6" stroke-linecap="round" stroke-linejoin="round"/><polyline points="795,571 797,571" fill="none" stroke="#474747" stroke-width="0.6" stroke-linecap="round" stroke-linejoin="round"/><polyline points="825,552 827,552" fill="none" stroke="#474747" stroke-width="0.6" stroke-linecap="round" stroke-linejoin="round"/><polyline points="833,549 835,549" fill="none" stroke="#474747" stroke-width="0.6" stroke-linecap="round" stroke-linejoin="round"/><polyline points="844,544 846,544" fill="none" stroke="#474747" stroke-width="0.6" stroke-linecap="round" stroke-linejoin="round"/><polyline points="856,541 858,541" fill="none" stroke="#474747" stroke-width="0.6" stroke-linecap="round" stroke-linejoin="round"/><path d="M680 579 l-2 3 l2 1 M697 597 l-2 3 l2 1" fill="none" stroke="#474747" stroke-width="0.6" stroke-linejoin="round" stroke-linecap="round" /><path d="M1144.1 895 H1180.4 C1192 890 1200 889.4 1207 889.4 C1215 889.4 1223 890 1234.1 895 H1270.4 V912.7 H1144.1 Z" fill="#fff" stroke="#474747" stroke-width="0.8" stroke-linejoin="round" stroke-linecap="round" /><polyline points="1180.4,895 1180.4,912.7" fill="none" stroke="#474747" stroke-width="0.7" stroke-linecap="round" stroke-linejoin="round"/><polyline points="1234.1,895 1234.1,912.7" fill="none" stroke="#474747" stroke-width="0.7" stroke-linecap="round" stroke-linejoin="round"/><polyline points="1159.8,898 1162.2,898" fill="none" stroke="#474747" stroke-width="0.6" stroke-linecap="round" stroke-linejoin="round"/><polyline points="1205.8,898 1208.2,898" fill="none" stroke="#474747" stroke-width="0.6" stroke-linecap="round" stroke-linejoin="round"/><polyline points="1250.8,898 1253.2,898" fill="none" stroke="#474747" stroke-width="0.6" stroke-linecap="round" stroke-linejoin="round"/><path d="M784.2 858.4 H824 V871 H826 C828 871 828 875 826 875 H824 V898.6 H784.2 V875 H782.2 C780 875 780 871 782.2 871 H784.2 Z" fill="#fff" stroke="#474747" stroke-width="0.8" stroke-linejoin="round" stroke-linecap="round" /><rect x="787.5" y="862" width="3.4" height="4.6" rx="0.8" fill="#fff" stroke="#474747" stroke-width="0.55"/><rect x="792.3" y="862" width="3.4" height="4.6" rx="0.8" fill="#fff" stroke="#474747" stroke-width="0.55"/><rect x="797.1" y="862" width="3.4" height="4.6" rx="0.8" fill="#fff" stroke="#474747" stroke-width="0.55"/><rect x="801.9" y="862" width="3.4" height="4.6" rx="0.8" fill="#fff" stroke="#474747" stroke-width="0.55"/><rect x="806.7" y="862" width="3.4" height="4.6" rx="0.8" fill="#fff" stroke="#474747" stroke-width="0.55"/><rect x="811.5" y="862" width="3.4" height="4.6" rx="0.8" fill="#fff" stroke="#474747" stroke-width="0.55"/><rect x="816.3" y="862" width="3.4" height="4.6" rx="0.8" fill="#fff" stroke="#474747" stroke-width="0.55"/><rect x="787.5" y="869" width="33.5" height="12.6" fill="#fff" stroke="#474747" stroke-width="0.6"/><polygon points="854.5,865 883.4,879.8 888.4,912.7 860,899.4" fill="#fff" stroke="#474747" stroke-width="0.8" stroke-linejoin="round"/><polyline points="852,870.5 856,872" fill="none" stroke="#474747" stroke-width="0.6" stroke-linecap="round" stroke-linejoin="round"/><polyline points="885,886 889,888" fill="none" stroke="#474747" stroke-width="0.6" stroke-linecap="round" stroke-linejoin="round"/><ellipse cx="857.7" cy="868.4" rx="1.5" ry="1.9" fill="#fff" stroke="#474747" stroke-width="0.5"/><ellipse cx="861.1" cy="870.1" rx="1.5" ry="1.9" fill="#fff" stroke="#474747" stroke-width="0.5"/><ellipse cx="864.6" cy="871.8" rx="1.5" ry="1.9" fill="#fff" stroke="#474747" stroke-width="0.5"/><ellipse cx="868" cy="873.5" rx="1.5" ry="1.9" fill="#fff" stroke="#474747" stroke-width="0.5"/><ellipse cx="871.4" cy="875.2" rx="1.5" ry="1.9" fill="#fff" stroke="#474747" stroke-width="0.5"/><ellipse cx="874.9" cy="876.9" rx="1.5" ry="1.9" fill="#fff" stroke="#474747" stroke-width="0.5"/><ellipse cx="878.3" cy="878.6" rx="1.5" ry="1.9" fill="#fff" stroke="#474747" stroke-width="0.5"/><polygon points="857,872.5 882.5,885 884,892.5 858.5,880" fill="#fff" stroke="#474747" stroke-width="0.6" stroke-linejoin="round"/><polyline points="868,868 895,859" fill="none" stroke="#d81e2c" stroke-width="0.8" stroke-linecap="round" stroke-linejoin="round"/><polygon points="898,858 895.5,860.7 894.4,857.3" fill="#d81e2c"/><polyline points="878,895 932,876.1" fill="none" stroke="#e06070" stroke-width="0.8" stroke-linecap="round" stroke-linejoin="round"/><polygon points="935,875 932.6,877.7 931.4,874.4" fill="#e06070"/><text x="0" y="0" font-size="8.3" fill="#d2d2d2" textLength="60.2" lengthAdjust="spacingAndGlyphs" transform="translate(360 250) rotate(-48.4)">FASCINATIONS</text><text x="0" y="0" font-size="8.3" fill="#d2d2d2" textLength="63.6" lengthAdjust="spacingAndGlyphs" transform="translate(340 710) rotate(-45)">FASCINATIONS</text><text x="0" y="0" font-size="8.3" fill="#d2d2d2" textLength="38.9" lengthAdjust="spacingAndGlyphs" transform="translate(790 255) rotate(-45)">FASCINATIONS</text><text x="0" y="0" font-size="8.3" fill="#d2d2d2" textLength="57.9" lengthAdjust="spacingAndGlyphs" transform="translate(1101.2 518.5) rotate(-47)">FASCINATIONS</text><text x="0" y="0" font-size="8.3" fill="#d2d2d2" textLength="59.6" lengthAdjust="spacingAndGlyphs" transform="translate(967.4 895) rotate(-44.9)">FASCINATIONS</text>
<!-- page divider -->
<rect x="629.3" y="0" width="1.6" height="957" fill="#d3d3d3"/>
<!-- dashed separators -->
<g stroke="#9a9a9a" stroke-width="1.3" stroke-dasharray="3 2.46">
  <line x1="0" y1="326.6" x2="609" y2="326.6"/>
  <line x1="0" y1="488.3" x2="609" y2="488.3"/>
  <line x1="0" y1="794.2" x2="609" y2="794.2"/>
</g>
<text x="559.2" y="23" font-size="14" fill="#222">Page 5</text>
<text x="1219" y="23" font-size="14" fill="#222">Page 6</text>

<!-- red boxes -->
<g class="rb">
  <path d="M225.3 397 V350.4 H59.2 V439.7 H225.3 V403.6"/>
  <path d="M257.4 880.2 V833.8 H79.7 V910.9 H257.4 V883.4"/>
  <path d="M922.3 453.4 V398.3 H665.3 V476.4 H922.3 V458.9"/>
  <path d="M924.3 555.6 V516.8 H654 V622.5 H924.3 V563.5"/>
  <path d="M837.7 886 V851 H769 V927 H837.7 V890"/>
  <path d="M1204.5 866.6 H1137.1 V917.1 H1278.5 V866.6 H1209.6"/>
</g>
<!-- red leader lines -->
<g class="rl">
  <path d="M225.3 397 L296.5 455.9 M225.3 403.6 L296.5 455.9"/>
  <path d="M257.4 880.2 L298.3 882.5 M257.4 883.4 L298.3 882.5"/>
  <path d="M922.3 453.4 L963.6 481.6 M922.3 458.9 L963.6 481.6"/>
  <path d="M924.3 555.6 L999 529.3 M924.3 563.5 L999 529.3"/>
  <path d="M837.7 886 L866 887 M837.7 890 L866 887"/>
  <path d="M1204.5 866.6 L1240.3 772.7 M1209.6 866.6 L1240.3 772.7"/>
</g>

<circle cx="89.3" cy="420.6" r="8.7" fill="#150f0f"/><path d="M85.2 415.3 H87.1 V425.9 H85.2 V418.5 L83.4 418.7 V417 Q84.8 416.6 85.2 415.3 Z" fill="#fff"/><path d="M90.7 415.3 H92.6 V425.9 H90.7 V418.5 L88.9 418.7 V417 Q90.3 416.6 90.7 415.3 Z" fill="#fff"/><circle cx="98.4" cy="856.3" r="8.9" fill="#150f0f"/><path d="M94.2 850.9 H96.2 V861.7 H94.2 V854.1 L92.4 854.4 V852.6 Q93.8 852.2 94.2 850.9 Z" fill="#fff"/><text x="0" y="0" font-size="15.1" font-weight="bold" fill="#fff" transform="translate(97.6 861.7) scale(0.93 1)">2</text><circle cx="691.1" cy="446.4" r="10.5" fill="#150f0f"/><path d="M686.2 440.1 H688.5 V452.7 H686.2 V443.9 L684.1 444.1 V442.1 Q685.7 441.6 686.2 440.1 Z" fill="#fff"/><text x="0" y="0" font-size="17.6" font-weight="bold" fill="#fff" transform="translate(690.2 452.7) scale(0.93 1)">3</text><circle cx="768.7" cy="550" r="9.3" fill="#150f0f"/><path d="M764.4 544.4 H766.4 V555.6 H764.4 V547.8 L762.5 548 V546.2 Q763.9 545.7 764.4 544.4 Z" fill="#fff"/><text x="0" y="0" font-size="15.6" font-weight="bold" fill="#fff" transform="translate(767.9 555.6) scale(0.93 1)">4</text><circle cx="803" cy="911.4" r="8.7" fill="#150f0f"/><path d="M799 906.1 H800.8 V916.6 H799 V909.3 L797.2 909.5 V907.8 Q798.5 907.4 799 906.1 Z" fill="#fff"/><text x="0" y="0" font-size="14.7" font-weight="bold" fill="#fff" transform="translate(802.2 916.6) scale(0.93 1)">6</text><circle cx="1185.4" cy="879.1" r="8.4" fill="#150f0f"/><path d="M1181.5 874 H1183.3 V884.2 H1181.5 V877.1 L1179.7 877.3 V875.6 Q1181.1 875.2 1181.5 874 Z" fill="#fff"/><text x="0" y="0" font-size="14.2" font-weight="bold" fill="#fff" transform="translate(1184.6 884.2) scale(0.93 1)">5</text>
<!-- red arrows -->
<path class="ra" d="M416 440.8 H430.7 V437.7 L438.9 444 L430.7 450.3 V447.7 H416 Z"/>
<path class="ra" d="M388.6 868 H402 V865 L410 871.4 L402 877.8 V874.8 H388.6 Z"/>
<path class="ra" d="M1028.2 570.5 H1035.6 V585.1 H1038.2 L1031.8 592.6 L1025.5 585.1 H1028.2 Z"/>
<path class="ra" d="M923.2 266.3 L928.5 262.3 L935.2 272.3 L939.5 272.6 L938.2 282.6 L929.2 279.5 L932 275.8 Z"/>

<!-- blue dots -->
<g class="bd">
  <circle cx="298.4" cy="477.2" r="3.6"/>
  <circle cx="287" cy="906.5" r="3.6"/>
  <circle cx="901.4" cy="907.2" r="3.6"/>
  <circle cx="1267.5" cy="742.6" r="3.6"/>
  <circle cx="1202.3" cy="782.6" r="3.6"/>
  <circle cx="1250.4" cy="306.6" r="3.6"/>
  <circle cx="1237.9" cy="374.9" r="3.6"/>
</g>

</svg>
</body></html>
